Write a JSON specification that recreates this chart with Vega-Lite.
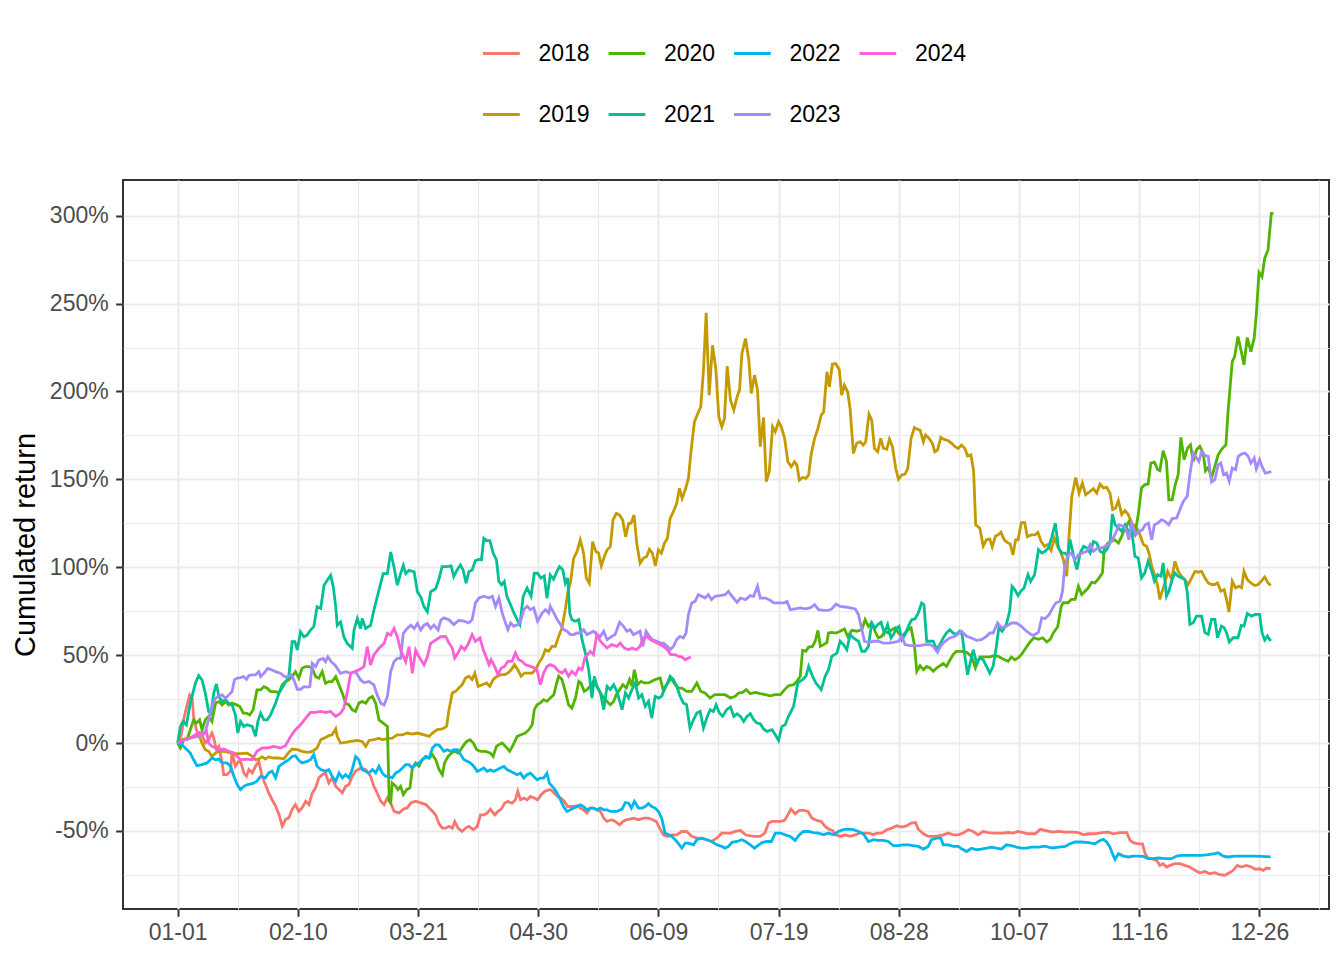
{
"$schema":"https://vega.github.io/schema/vega-lite/v6.json",
"width":1206,"height":729,
"autosize":{"type":"none"},
"padding":{"left":123,"top":180,"right":15,"bottom":51},
"background":"white",
"config":{
"font":"Liberation Sans",
"view":{"stroke":"#333333","strokeWidth":2},
"axis":{"domain":false,"labelFont":"Liberation Sans","labelFontSize":23,"labelColor":"#4D4D4D","tickColor":"#333333","tickWidth":2,"tickSize":7.3,"gridColor":"#EBEBEB","labelOverlap":false,"labelFlush":false,"titleFont":"Liberation Sans","titleFontWeight":"normal","titleColor":"#000000","titleFontSize":29},
"legend":{"labelFont":"Liberation Sans"}
},
"data":{"values":[
{"year":"2018","day":0,"ret":0},{"year":"2018","day":1.1,"ret":3.8},{"year":"2018","day":2.2,"ret":15.1},{"year":"2018","day":3.3,"ret":22.7},{"year":"2018","day":4,"ret":27.4},{"year":"2018","day":4.8,"ret":25.5},{"year":"2018","day":5.3,"ret":15.1},{"year":"2018","day":6.2,"ret":7.6},{"year":"2018","day":7,"ret":3.8},{"year":"2018","day":8.1,"ret":4.7},{"year":"2018","day":9.2,"ret":0},{"year":"2018","day":10.3,"ret":1.9},{"year":"2018","day":11.4,"ret":5.7},{"year":"2018","day":12,"ret":2.8},{"year":"2018","day":12.9,"ret":-3.8},{"year":"2018","day":13.7,"ret":-1.9},{"year":"2018","day":14.8,"ret":-11.3},{"year":"2018","day":15.3,"ret":-18},{"year":"2018","day":16.4,"ret":-18},{"year":"2018","day":17.6,"ret":-16},{"year":"2018","day":18.1,"ret":-4.7},{"year":"2018","day":19.2,"ret":-13.2},{"year":"2018","day":20.3,"ret":-10.4},{"year":"2018","day":21.1,"ret":-11.3},{"year":"2018","day":22,"ret":-17},{"year":"2018","day":22.9,"ret":-18.9},{"year":"2018","day":23.7,"ret":-15.1},{"year":"2018","day":24.8,"ret":-17},{"year":"2018","day":25.9,"ret":-13.2},{"year":"2018","day":27,"ret":-10.4},{"year":"2018","day":28.1,"ret":-18.9},{"year":"2018","day":29.2,"ret":-23.6},{"year":"2018","day":30.3,"ret":-28.4},{"year":"2018","day":31.4,"ret":-32.1},{"year":"2018","day":32.6,"ret":-35.9},{"year":"2018","day":33.7,"ret":-40.6},{"year":"2018","day":34.8,"ret":-47.3},{"year":"2018","day":35.9,"ret":-43.5},{"year":"2018","day":37,"ret":-42.5},{"year":"2018","day":38.1,"ret":-37.8},{"year":"2018","day":39.2,"ret":-35},{"year":"2018","day":40.3,"ret":-38.8},{"year":"2018","day":41.4,"ret":-36.9},{"year":"2018","day":42.6,"ret":-33.1},{"year":"2018","day":43.7,"ret":-35},{"year":"2018","day":44.8,"ret":-28.4},{"year":"2018","day":45.9,"ret":-25.5},{"year":"2018","day":47,"ret":-19.8},{"year":"2018","day":48.1,"ret":-18},{"year":"2018","day":49.2,"ret":-17},{"year":"2018","day":50.3,"ret":-22.7},{"year":"2018","day":51.4,"ret":-19.8},{"year":"2018","day":52.6,"ret":-24.6},{"year":"2018","day":53.7,"ret":-26.5},{"year":"2018","day":54.8,"ret":-28.4},{"year":"2018","day":55.9,"ret":-24.6},{"year":"2018","day":57,"ret":-23.6},{"year":"2018","day":58.1,"ret":-18.9},{"year":"2018","day":59.2,"ret":-16},{"year":"2018","day":60.9,"ret":-14.2},{"year":"2018","day":62.6,"ret":-15.1},{"year":"2018","day":64.2,"ret":-18.9},{"year":"2018","day":65.3,"ret":-24.6},{"year":"2018","day":66.4,"ret":-28.4},{"year":"2018","day":67.6,"ret":-33.1},{"year":"2018","day":68.7,"ret":-35},{"year":"2018","day":69.8,"ret":-31.2},{"year":"2018","day":70.9,"ret":-34},{"year":"2018","day":72,"ret":-38.8},{"year":"2018","day":73.7,"ret":-39.7},{"year":"2018","day":75.3,"ret":-37.4},{"year":"2018","day":76.4,"ret":-36.9},{"year":"2018","day":77.6,"ret":-34},{"year":"2018","day":79.2,"ret":-33.1},{"year":"2018","day":80.9,"ret":-34},{"year":"2018","day":82.6,"ret":-35},{"year":"2018","day":83.7,"ret":-36.9},{"year":"2018","day":84.8,"ret":-38.8},{"year":"2018","day":85.9,"ret":-41},{"year":"2018","day":87,"ret":-46},{"year":"2018","day":88.1,"ret":-48.4},{"year":"2018","day":89.2,"ret":-48.4},{"year":"2018","day":90.3,"ret":-47.4},{"year":"2018","day":91.4,"ret":-48.4},{"year":"2018","day":92.2,"ret":-44.6},{"year":"2018","day":93.3,"ret":-48.4},{"year":"2018","day":94.7,"ret":-50.3},{"year":"2018","day":95.8,"ret":-48.4},{"year":"2018","day":96.9,"ret":-47.4},{"year":"2018","day":98.4,"ret":-49.3},{"year":"2018","day":99.7,"ret":-47.4},{"year":"2018","day":100.8,"ret":-40.8},{"year":"2018","day":101.9,"ret":-40.8},{"year":"2018","day":103,"ret":-39.8},{"year":"2018","day":104.1,"ret":-37.6},{"year":"2018","day":105.5,"ret":-40.8},{"year":"2018","day":106.6,"ret":-38.9},{"year":"2018","day":107.7,"ret":-37.6},{"year":"2018","day":108.8,"ret":-34.2},{"year":"2018","day":109.9,"ret":-33.2},{"year":"2018","day":111.3,"ret":-34.2},{"year":"2018","day":112.4,"ret":-32.3},{"year":"2018","day":113.2,"ret":-27.5},{"year":"2018","day":114.1,"ret":-32.3},{"year":"2018","day":115.2,"ret":-31.3},{"year":"2018","day":116.3,"ret":-32.3},{"year":"2018","day":117.4,"ret":-30.4},{"year":"2018","day":118.7,"ret":-31.3},{"year":"2018","day":119.8,"ret":-32.3},{"year":"2018","day":121,"ret":-29.4},{"year":"2018","day":122.1,"ret":-27.5},{"year":"2018","day":123.5,"ret":-26.6},{"year":"2018","day":124.3,"ret":-26.6},{"year":"2018","day":125.4,"ret":-28.5},{"year":"2018","day":126.5,"ret":-30.4},{"year":"2018","day":127.6,"ret":-31.3},{"year":"2018","day":128.7,"ret":-33.2},{"year":"2018","day":129.8,"ret":-36.1},{"year":"2018","day":130.7,"ret":-36.1},{"year":"2018","day":131.8,"ret":-36.1},{"year":"2018","day":132.9,"ret":-35.7},{"year":"2018","day":134,"ret":-37},{"year":"2018","day":135.1,"ret":-38},{"year":"2018","day":136.2,"ret":-39.8},{"year":"2018","day":137.3,"ret":-37},{"year":"2018","day":138.4,"ret":-37},{"year":"2018","day":139.5,"ret":-38},{"year":"2018","day":140.7,"ret":-38.9},{"year":"2018","day":141.8,"ret":-42.7},{"year":"2018","day":142.9,"ret":-44.6},{"year":"2018","day":144.5,"ret":-43.6},{"year":"2018","day":145.6,"ret":-44.6},{"year":"2018","day":147.1,"ret":-46.5},{"year":"2018","day":148.2,"ret":-44.6},{"year":"2018","day":149.5,"ret":-43.6},{"year":"2018","day":150.6,"ret":-43.3},{"year":"2018","day":151.7,"ret":-42.7},{"year":"2018","day":153.4,"ret":-43.6},{"year":"2018","day":155.1,"ret":-42.7},{"year":"2018","day":156.7,"ret":-42.7},{"year":"2018","day":158.1,"ret":-43.6},{"year":"2018","day":159.3,"ret":-44.6},{"year":"2018","day":160.4,"ret":-48.4},{"year":"2018","day":161.7,"ret":-52.2},{"year":"2018","day":163,"ret":-53.1},{"year":"2018","day":164.5,"ret":-52.2},{"year":"2018","day":166.1,"ret":-52.2},{"year":"2018","day":167.8,"ret":-50.3},{"year":"2018","day":169.4,"ret":-50.3},{"year":"2018","day":171.1,"ret":-53.1},{"year":"2018","day":172.8,"ret":-54.1},{"year":"2018","day":174.4,"ret":-54.1},{"year":"2018","day":176.1,"ret":-55},{"year":"2018","day":177.7,"ret":-56},{"year":"2018","day":179.4,"ret":-54.1},{"year":"2018","day":181.1,"ret":-51.2},{"year":"2018","day":182.7,"ret":-51.2},{"year":"2018","day":184,"ret":-51.2},{"year":"2018","day":185.6,"ret":-50.3},{"year":"2018","day":187.3,"ret":-49.7},{"year":"2018","day":189,"ret":-52.2},{"year":"2018","day":190.6,"ret":-52.8},{"year":"2018","day":192.3,"ret":-53.1},{"year":"2018","day":193.9,"ret":-53.1},{"year":"2018","day":195.4,"ret":-51.2},{"year":"2018","day":196.7,"ret":-45.5},{"year":"2018","day":197.8,"ret":-44.6},{"year":"2018","day":199.5,"ret":-44.6},{"year":"2018","day":200.6,"ret":-44.6},{"year":"2018","day":202,"ret":-44},{"year":"2018","day":203.1,"ret":-40.8},{"year":"2018","day":204.1,"ret":-37.6},{"year":"2018","day":205.5,"ret":-40.2},{"year":"2018","day":206.9,"ret":-38.3},{"year":"2018","day":208.3,"ret":-38.3},{"year":"2018","day":209.8,"ret":-38.9},{"year":"2018","day":211.1,"ret":-42.7},{"year":"2018","day":212.7,"ret":-44},{"year":"2018","day":214.2,"ret":-44.6},{"year":"2018","day":215.5,"ret":-47.4},{"year":"2018","day":216.8,"ret":-49},{"year":"2018","day":217.9,"ret":-49.7},{"year":"2018","day":219.1,"ret":-52.2},{"year":"2018","day":220.5,"ret":-53.1},{"year":"2018","day":222.2,"ret":-52.2},{"year":"2018","day":223.8,"ret":-53.1},{"year":"2018","day":225.5,"ret":-52.2},{"year":"2018","day":227.1,"ret":-51.2},{"year":"2018","day":228.8,"ret":-51.2},{"year":"2018","day":230.1,"ret":-51.2},{"year":"2018","day":231.6,"ret":-52.2},{"year":"2018","day":232.7,"ret":-51.2},{"year":"2018","day":234.3,"ret":-51.2},{"year":"2018","day":236,"ret":-49.3},{"year":"2018","day":237.7,"ret":-48.4},{"year":"2018","day":239.3,"ret":-47.1},{"year":"2018","day":241,"ret":-47.8},{"year":"2018","day":242.6,"ret":-47.1},{"year":"2018","day":244.1,"ret":-45.5},{"year":"2018","day":245.6,"ret":-45.2},{"year":"2018","day":246.5,"ret":-49},{"year":"2018","day":248.2,"ret":-51.6},{"year":"2018","day":249.8,"ret":-53.1},{"year":"2018","day":251.5,"ret":-53.1},{"year":"2018","day":253.1,"ret":-52.8},{"year":"2018","day":254.8,"ret":-52.2},{"year":"2018","day":256.5,"ret":-51.2},{"year":"2018","day":258.1,"ret":-52.2},{"year":"2018","day":259.8,"ret":-52.2},{"year":"2018","day":261.4,"ret":-51.2},{"year":"2018","day":263.1,"ret":-49.3},{"year":"2018","day":264.8,"ret":-50.3},{"year":"2018","day":266.4,"ret":-52.2},{"year":"2018","day":268.1,"ret":-50.3},{"year":"2018","day":269.8,"ret":-50.9},{"year":"2018","day":271.4,"ret":-51.2},{"year":"2018","day":273.1,"ret":-51.2},{"year":"2018","day":274.7,"ret":-51.2},{"year":"2018","day":276.4,"ret":-50.9},{"year":"2018","day":278.1,"ret":-51.2},{"year":"2018","day":279.7,"ret":-50.3},{"year":"2018","day":281.4,"ret":-50.9},{"year":"2018","day":282.5,"ret":-51.5},{"year":"2018","day":283.9,"ret":-51.6},{"year":"2018","day":285.4,"ret":-51.6},{"year":"2018","day":287.1,"ret":-49.1},{"year":"2018","day":288.7,"ret":-49.7},{"year":"2018","day":291,"ret":-50.7},{"year":"2018","day":293.2,"ret":-50.3},{"year":"2018","day":295.4,"ret":-50.7},{"year":"2018","day":297.6,"ret":-50.7},{"year":"2018","day":299.8,"ret":-51},{"year":"2018","day":301.5,"ret":-52.2},{"year":"2018","day":303.1,"ret":-51.6},{"year":"2018","day":305.3,"ret":-51.6},{"year":"2018","day":307.6,"ret":-51},{"year":"2018","day":309.8,"ret":-50.7},{"year":"2018","day":311.4,"ret":-51.6},{"year":"2018","day":313.7,"ret":-51},{"year":"2018","day":315.9,"ret":-51},{"year":"2018","day":317,"ret":-55.4},{"year":"2018","day":318.1,"ret":-56.7},{"year":"2018","day":319.7,"ret":-57.3},{"year":"2018","day":321.1,"ret":-57.3},{"year":"2018","day":322,"ret":-62.9},{"year":"2018","day":323.1,"ret":-65.8},{"year":"2018","day":324.2,"ret":-65.8},{"year":"2018","day":325.8,"ret":-66.7},{"year":"2018","day":326.9,"ret":-69.6},{"year":"2018","day":328,"ret":-68.6},{"year":"2018","day":329.1,"ret":-70.5},{"year":"2018","day":330.3,"ret":-69.6},{"year":"2018","day":331.9,"ret":-68.6},{"year":"2018","day":333.6,"ret":-68.6},{"year":"2018","day":335.2,"ret":-69.6},{"year":"2018","day":336.9,"ret":-70.5},{"year":"2018","day":338.6,"ret":-72.4},{"year":"2018","day":340.2,"ret":-73.9},{"year":"2018","day":341.9,"ret":-73},{"year":"2018","day":343.5,"ret":-74.3},{"year":"2018","day":345.2,"ret":-73.7},{"year":"2018","day":346.9,"ret":-74.9},{"year":"2018","day":348.5,"ret":-75.2},{"year":"2018","day":350.2,"ret":-73.7},{"year":"2018","day":351.3,"ret":-72.4},{"year":"2018","day":352.7,"ret":-69.6},{"year":"2018","day":354,"ret":-70.5},{"year":"2018","day":355.7,"ret":-69.6},{"year":"2018","day":357.4,"ret":-70.5},{"year":"2018","day":358.7,"ret":-71.8},{"year":"2018","day":360.1,"ret":-71.5},{"year":"2018","day":361.3,"ret":-72.4},{"year":"2018","day":362.4,"ret":-71.1},{"year":"2018","day":363.8,"ret":-71.5},
{"year":"2019","day":0,"ret":0},{"year":"2019","day":2,"ret":2.3},{"year":"2019","day":3.7,"ret":2.8},{"year":"2019","day":5.3,"ret":3.8},{"year":"2019","day":7,"ret":4.7},{"year":"2019","day":8.1,"ret":0},{"year":"2019","day":9.2,"ret":-3.8},{"year":"2019","day":10.3,"ret":-4.7},{"year":"2019","day":11.4,"ret":-7.6},{"year":"2019","day":12.6,"ret":-5.7},{"year":"2019","day":13.7,"ret":-4.7},{"year":"2019","day":15.3,"ret":-4.7},{"year":"2019","day":17,"ret":-5.3},{"year":"2019","day":18.7,"ret":-6},{"year":"2019","day":20.9,"ret":-6},{"year":"2019","day":23.1,"ret":-5.7},{"year":"2019","day":24.8,"ret":-7.6},{"year":"2019","day":25.9,"ret":-9.5},{"year":"2019","day":27,"ret":-9.1},{"year":"2019","day":28.1,"ret":-7.9},{"year":"2019","day":29.2,"ret":-9.1},{"year":"2019","day":30.3,"ret":-7.9},{"year":"2019","day":32,"ret":-8.5},{"year":"2019","day":33.7,"ret":-8.5},{"year":"2019","day":35.3,"ret":-9.1},{"year":"2019","day":37,"ret":-5.3},{"year":"2019","day":38.1,"ret":-3.4},{"year":"2019","day":39.8,"ret":-3.8},{"year":"2019","day":41.4,"ret":-4.7},{"year":"2019","day":43.1,"ret":-5.3},{"year":"2019","day":44.8,"ret":-4.7},{"year":"2019","day":46.4,"ret":-2.8},{"year":"2019","day":47.6,"ret":1.9},{"year":"2019","day":48.7,"ret":2.8},{"year":"2019","day":50.3,"ret":4.2},{"year":"2019","day":51.4,"ret":4.7},{"year":"2019","day":52.6,"ret":8.1},{"year":"2019","day":53.1,"ret":3.8},{"year":"2019","day":54.2,"ret":0},{"year":"2019","day":55.9,"ret":0.4},{"year":"2019","day":57.6,"ret":0.9},{"year":"2019","day":59.8,"ret":1.5},{"year":"2019","day":61.4,"ret":0.9},{"year":"2019","day":62.6,"ret":-1.9},{"year":"2019","day":63.7,"ret":1.5},{"year":"2019","day":65.3,"ret":1.9},{"year":"2019","day":67,"ret":2.8},{"year":"2019","day":68.1,"ret":1.9},{"year":"2019","day":69.8,"ret":2.5},{"year":"2019","day":71.4,"ret":2.8},{"year":"2019","day":73.1,"ret":4.7},{"year":"2019","day":74.8,"ret":4.7},{"year":"2019","day":76.4,"ret":5.7},{"year":"2019","day":78.1,"ret":5.1},{"year":"2019","day":79.8,"ret":5.7},{"year":"2019","day":82,"ret":4.7},{"year":"2019","day":83.7,"ret":3.8},{"year":"2019","day":84.8,"ret":5.7},{"year":"2019","day":86.4,"ret":7.6},{"year":"2019","day":88.1,"ret":8},{"year":"2019","day":89.5,"ret":9.5},{"year":"2019","day":90.3,"ret":19},{"year":"2019","day":91.4,"ret":28.5},{"year":"2019","day":92.5,"ret":29.4},{"year":"2019","day":93.6,"ret":31.3},{"year":"2019","day":94.7,"ret":33.2},{"year":"2019","day":95.8,"ret":37},{"year":"2019","day":96.9,"ret":38},{"year":"2019","day":98,"ret":36.1},{"year":"2019","day":98.9,"ret":39.8},{"year":"2019","day":100,"ret":32.3},{"year":"2019","day":101.4,"ret":33.2},{"year":"2019","day":102.8,"ret":34.2},{"year":"2019","day":103.9,"ret":32.3},{"year":"2019","day":105,"ret":36.1},{"year":"2019","day":106.3,"ret":38},{"year":"2019","day":107.7,"ret":38.9},{"year":"2019","day":108.8,"ret":38.9},{"year":"2019","day":109.9,"ret":39.8},{"year":"2019","day":111,"ret":41.7},{"year":"2019","day":112.1,"ret":44.6},{"year":"2019","day":113.2,"ret":41.7},{"year":"2019","day":114.3,"ret":38},{"year":"2019","day":115.4,"ret":39.8},{"year":"2019","day":116.5,"ret":39.8},{"year":"2019","day":118,"ret":39.8},{"year":"2019","day":119.1,"ret":41.7},{"year":"2019","day":120.2,"ret":45.5},{"year":"2019","day":121.3,"ret":48.4},{"year":"2019","day":122.4,"ret":53.1},{"year":"2019","day":123.5,"ret":52.2},{"year":"2019","day":124.6,"ret":55},{"year":"2019","day":125.7,"ret":55},{"year":"2019","day":126.8,"ret":60.7},{"year":"2019","day":127.9,"ret":65.5},{"year":"2019","day":129,"ret":75.9},{"year":"2019","day":129.8,"ret":85.4},{"year":"2019","day":130.7,"ret":91.1},{"year":"2019","day":131.8,"ret":105.1},{"year":"2019","day":132.9,"ret":108.9},{"year":"2019","day":134,"ret":115.5},{"year":"2019","day":135.1,"ret":108},{"year":"2019","day":136,"ret":93.8},{"year":"2019","day":137,"ret":90.9},{"year":"2019","day":138.1,"ret":114.6},{"year":"2019","day":139.2,"ret":108.9},{"year":"2019","day":140.1,"ret":108},{"year":"2019","day":141,"ret":100.8},{"year":"2019","day":142,"ret":106.1},{"year":"2019","day":142.9,"ret":109.8},{"year":"2019","day":144,"ret":111.7},{"year":"2019","day":144.9,"ret":126.9},{"year":"2019","day":146,"ret":130.7},{"year":"2019","day":147.1,"ret":129.7},{"year":"2019","day":148.1,"ret":126.9},{"year":"2019","day":149.1,"ret":117.4},{"year":"2019","day":150.1,"ret":125},{"year":"2019","day":150.9,"ret":125},{"year":"2019","day":151.9,"ret":129.7},{"year":"2019","day":152.8,"ret":113.6},{"year":"2019","day":153.9,"ret":102.3},{"year":"2019","day":155,"ret":105.1},{"year":"2019","day":156.1,"ret":106.1},{"year":"2019","day":157,"ret":110.2},{"year":"2019","day":158,"ret":108},{"year":"2019","day":159,"ret":100.8},{"year":"2019","day":160,"ret":109.8},{"year":"2019","day":161,"ret":108},{"year":"2019","day":162,"ret":113.6},{"year":"2019","day":163,"ret":116.5},{"year":"2019","day":163.9,"ret":127.8},{"year":"2019","day":165,"ret":131.6},{"year":"2019","day":166.1,"ret":136.4},{"year":"2019","day":167,"ret":144.9},{"year":"2019","day":167.9,"ret":139.2},{"year":"2019","day":168.9,"ret":143.9},{"year":"2019","day":170,"ret":150.6},{"year":"2019","day":170.9,"ret":166.7},{"year":"2019","day":172,"ret":182.8},{"year":"2019","day":173.1,"ret":187.5},{"year":"2019","day":174.1,"ret":191.3},{"year":"2019","day":175,"ret":212.1},{"year":"2019","day":175.9,"ret":244.7},{"year":"2019","day":176.9,"ret":197.9},{"year":"2019","day":178,"ret":226.3},{"year":"2019","day":179.1,"ret":213.1},{"year":"2019","day":180.1,"ret":185.6},{"year":"2019","day":181.1,"ret":179.9},{"year":"2019","day":182,"ret":184.7},{"year":"2019","day":182.9,"ret":214.4},{"year":"2019","day":184,"ret":195},{"year":"2019","day":185.1,"ret":189.4},{"year":"2019","day":186.2,"ret":197},{"year":"2019","day":187,"ret":200.8},{"year":"2019","day":187.8,"ret":221.6},{"year":"2019","day":189,"ret":230.1},{"year":"2019","day":190.1,"ret":217.8},{"year":"2019","day":190.9,"ret":198.9},{"year":"2019","day":192,"ret":209.3},{"year":"2019","day":193,"ret":200.8},{"year":"2019","day":193.9,"ret":168.6},{"year":"2019","day":195,"ret":185.2},{"year":"2019","day":195.9,"ret":148.7},{"year":"2019","day":196.9,"ret":154.4},{"year":"2019","day":198,"ret":179.9},{"year":"2019","day":198.9,"ret":177.1},{"year":"2019","day":200,"ret":182.8},{"year":"2019","day":200.9,"ret":179.9},{"year":"2019","day":202,"ret":173.3},{"year":"2019","day":203.1,"ret":160},{"year":"2019","day":204.2,"ret":157.2},{"year":"2019","day":205.3,"ret":160},{"year":"2019","day":206.1,"ret":158.1},{"year":"2019","day":206.9,"ret":149.6},{"year":"2019","day":208,"ret":151.1},{"year":"2019","day":209.1,"ret":150.6},{"year":"2019","day":210,"ret":152.5},{"year":"2019","day":210.9,"ret":164.8},{"year":"2019","day":212,"ret":173.3},{"year":"2019","day":213.1,"ret":179},{"year":"2019","day":214.2,"ret":186.6},{"year":"2019","day":215,"ret":188.4},{"year":"2019","day":216.1,"ret":211.2},{"year":"2019","day":216.9,"ret":202.7},{"year":"2019","day":217.9,"ret":215.5},{"year":"2019","day":219,"ret":215.9},{"year":"2019","day":220.2,"ret":212.5},{"year":"2019","day":221,"ret":197.9},{"year":"2019","day":221.9,"ret":203.6},{"year":"2019","day":223,"ret":199.8},{"year":"2019","day":223.8,"ret":190.3},{"year":"2019","day":224.9,"ret":164.8},{"year":"2019","day":226,"ret":170.5},{"year":"2019","day":227.1,"ret":171.4},{"year":"2019","day":228.2,"ret":169.5},{"year":"2019","day":229,"ret":171.4},{"year":"2019","day":230.1,"ret":187.1},{"year":"2019","day":231,"ret":183.7},{"year":"2019","day":231.9,"ret":167.6},{"year":"2019","day":233,"ret":165.7},{"year":"2019","day":234,"ret":173.3},{"year":"2019","day":234.9,"ret":167.7},{"year":"2019","day":236,"ret":167.1},{"year":"2019","day":236.9,"ret":172.9},{"year":"2019","day":237.9,"ret":168.6},{"year":"2019","day":239,"ret":156.2},{"year":"2019","day":239.9,"ret":150},{"year":"2019","day":241,"ret":152.5},{"year":"2019","day":242.1,"ret":153},{"year":"2019","day":243,"ret":156.2},{"year":"2019","day":244.1,"ret":173.3},{"year":"2019","day":245.2,"ret":179.5},{"year":"2019","day":246.3,"ret":178.4},{"year":"2019","day":247.1,"ret":178},{"year":"2019","day":248.2,"ret":171.4},{"year":"2019","day":248.9,"ret":175.2},{"year":"2019","day":250.1,"ret":173.3},{"year":"2019","day":251.2,"ret":170.5},{"year":"2019","day":252,"ret":165.7},{"year":"2019","day":252.9,"ret":166.7},{"year":"2019","day":254,"ret":173.9},{"year":"2019","day":255.1,"ret":172.7},{"year":"2019","day":256.5,"ret":172},{"year":"2019","day":257.6,"ret":170.5},{"year":"2019","day":258.7,"ret":168.6},{"year":"2019","day":259.8,"ret":167.6},{"year":"2019","day":260.9,"ret":169.5},{"year":"2019","day":262,"ret":167.6},{"year":"2019","day":262.9,"ret":163.3},{"year":"2019","day":264,"ret":163.9},{"year":"2019","day":264.9,"ret":155.3},{"year":"2019","day":265.6,"ret":124.1},{"year":"2019","day":267,"ret":122.2},{"year":"2019","day":268.1,"ret":112.1},{"year":"2019","day":269.2,"ret":115.6},{"year":"2019","day":270.3,"ret":116},{"year":"2019","day":271.1,"ret":111.7},{"year":"2019","day":272.2,"ret":117.8},{"year":"2019","day":273.1,"ret":118.4},{"year":"2019","day":274,"ret":119.9},{"year":"2019","day":275.1,"ret":115.6},{"year":"2019","day":276.2,"ret":114},{"year":"2019","day":277.1,"ret":113.3},{"year":"2019","day":278,"ret":107},{"year":"2019","day":278.9,"ret":115.6},{"year":"2019","day":279.7,"ret":115.6},{"year":"2019","day":280.8,"ret":125.4},{"year":"2019","day":281.9,"ret":125.4},{"year":"2019","day":282.8,"ret":117.4},{"year":"2019","day":284.1,"ret":118.4},{"year":"2019","day":285.4,"ret":118.5},{"year":"2019","day":286.3,"ret":119.8},{"year":"2019","day":287.4,"ret":114.7},{"year":"2019","day":288.5,"ret":111.9},{"year":"2019","day":289.6,"ret":112.9},{"year":"2019","day":290.7,"ret":109.6},{"year":"2019","day":291.8,"ret":116.6},{"year":"2019","day":292.9,"ret":111.9},{"year":"2019","day":294,"ret":108.1},{"year":"2019","day":294.8,"ret":104.3},{"year":"2019","day":295.9,"ret":94.9},{"year":"2019","day":296.7,"ret":118.6},{"year":"2019","day":297.6,"ret":140.3},{"year":"2019","day":298.9,"ret":151.1},{"year":"2019","day":300,"ret":142.2},{"year":"2019","day":301.1,"ret":147.9},{"year":"2019","day":302.2,"ret":141.3},{"year":"2019","day":303.7,"ret":143.2},{"year":"2019","day":304.8,"ret":144.7},{"year":"2019","day":305.9,"ret":142.2},{"year":"2019","day":307,"ret":147.3},{"year":"2019","day":308.1,"ret":145.1},{"year":"2019","day":309.2,"ret":145.5},{"year":"2019","day":310.3,"ret":142.2},{"year":"2019","day":311.2,"ret":132.8},{"year":"2019","day":312.2,"ret":133.7},{"year":"2019","day":313.1,"ret":137.9},{"year":"2019","day":314.2,"ret":130},{"year":"2019","day":315.3,"ret":132.2},{"year":"2019","day":316.4,"ret":130},{"year":"2019","day":317.5,"ret":125.2},{"year":"2019","day":319.2,"ret":122.3},{"year":"2019","day":320.3,"ret":118.5},{"year":"2019","day":321.4,"ret":112.9},{"year":"2019","day":322.5,"ret":111.9},{"year":"2019","day":323.3,"ret":108.1},{"year":"2019","day":324.2,"ret":100.6},{"year":"2019","day":325.3,"ret":94.9},{"year":"2019","day":326.2,"ret":89.2},{"year":"2019","day":326.9,"ret":81.7},{"year":"2019","day":327.7,"ret":86.4},{"year":"2019","day":328.6,"ret":91.1},{"year":"2019","day":329.5,"ret":97.7},{"year":"2019","day":330.6,"ret":94},{"year":"2019","day":331.1,"ret":95.8},{"year":"2019","day":331.9,"ret":103.4},{"year":"2019","day":333,"ret":97.7},{"year":"2019","day":334.1,"ret":94.9},{"year":"2019","day":335.2,"ret":93},{"year":"2019","day":336.3,"ret":90.2},{"year":"2019","day":337.5,"ret":94},{"year":"2019","day":338.6,"ret":97.7},{"year":"2019","day":339.7,"ret":97.2},{"year":"2019","day":340.8,"ret":97.7},{"year":"2019","day":341.9,"ret":94},{"year":"2019","day":343,"ret":91.1},{"year":"2019","day":344.1,"ret":90.2},{"year":"2019","day":345.2,"ret":90.2},{"year":"2019","day":346.1,"ret":91.1},{"year":"2019","day":347.2,"ret":86.4},{"year":"2019","day":348.3,"ret":87.3},{"year":"2019","day":349.1,"ret":81.7},{"year":"2019","day":349.9,"ret":74.5},{"year":"2019","day":351,"ret":92.1},{"year":"2019","day":352.1,"ret":88.3},{"year":"2019","day":353.2,"ret":89.2},{"year":"2019","day":354.1,"ret":88.3},{"year":"2019","day":354.9,"ret":97.7},{"year":"2019","day":356,"ret":93},{"year":"2019","day":357.2,"ret":91.1},{"year":"2019","day":358.5,"ret":89.6},{"year":"2019","day":359.6,"ret":90.2},{"year":"2019","day":360.7,"ret":92.1},{"year":"2019","day":361.8,"ret":94.5},{"year":"2019","day":362.9,"ret":91.1},{"year":"2019","day":363.8,"ret":89.6},
{"year":"2020","day":0,"ret":0},{"year":"2020","day":0.9,"ret":-2.8},{"year":"2020","day":2,"ret":1.9},{"year":"2020","day":3.1,"ret":1.9},{"year":"2020","day":4.2,"ret":7.6},{"year":"2020","day":5.3,"ret":13.2},{"year":"2020","day":6.2,"ret":11.3},{"year":"2020","day":7.3,"ret":13.2},{"year":"2020","day":8.1,"ret":7.6},{"year":"2020","day":9.2,"ret":13.2},{"year":"2020","day":10.3,"ret":15.1},{"year":"2020","day":11.4,"ret":12.3},{"year":"2020","day":12.6,"ret":22.7},{"year":"2020","day":13.7,"ret":23.6},{"year":"2020","day":14.8,"ret":21.7},{"year":"2020","day":15.9,"ret":23.6},{"year":"2020","day":17,"ret":21.7},{"year":"2020","day":18.1,"ret":22.7},{"year":"2020","day":19.6,"ret":21.7},{"year":"2020","day":20.7,"ret":20.8},{"year":"2020","day":21.8,"ret":17},{"year":"2020","day":22.9,"ret":17},{"year":"2020","day":24,"ret":16},{"year":"2020","day":25.1,"ret":18.9},{"year":"2020","day":26.4,"ret":30.2},{"year":"2020","day":27.6,"ret":30.2},{"year":"2020","day":28.7,"ret":32.1},{"year":"2020","day":29.8,"ret":31.2},{"year":"2020","day":30.9,"ret":29.3},{"year":"2020","day":32.6,"ret":29.3},{"year":"2020","day":33.7,"ret":28.4},{"year":"2020","day":34.8,"ret":33.1},{"year":"2020","day":35.9,"ret":35},{"year":"2020","day":37,"ret":35.9},{"year":"2020","day":38.1,"ret":37.8},{"year":"2020","day":39.2,"ret":40.6},{"year":"2020","day":40.3,"ret":36.9},{"year":"2020","day":41.4,"ret":42.5},{"year":"2020","day":42.6,"ret":43.5},{"year":"2020","day":43.7,"ret":43.5},{"year":"2020","day":44.8,"ret":42.5},{"year":"2020","day":45.9,"ret":37.8},{"year":"2020","day":47,"ret":36.9},{"year":"2020","day":48.1,"ret":40.6},{"year":"2020","day":49.2,"ret":34},{"year":"2020","day":50.3,"ret":35},{"year":"2020","day":51.4,"ret":35},{"year":"2020","day":52.6,"ret":37.8},{"year":"2020","day":53.7,"ret":33.1},{"year":"2020","day":54.8,"ret":28.4},{"year":"2020","day":55.9,"ret":22.7},{"year":"2020","day":57,"ret":21.7},{"year":"2020","day":58.1,"ret":18.9},{"year":"2020","day":59.2,"ret":18},{"year":"2020","day":60.3,"ret":22.7},{"year":"2020","day":61.4,"ret":23.6},{"year":"2020","day":62.6,"ret":22.7},{"year":"2020","day":63.7,"ret":25.5},{"year":"2020","day":64.8,"ret":26.5},{"year":"2020","day":65.9,"ret":22.7},{"year":"2020","day":67,"ret":13.2},{"year":"2020","day":68.4,"ret":11.3},{"year":"2020","day":69.8,"ret":9.5},{"year":"2020","day":70.4,"ret":-33},{"year":"2020","day":70.9,"ret":-34},{"year":"2020","day":71.4,"ret":-22.7},{"year":"2020","day":72.6,"ret":-24.6},{"year":"2020","day":73.3,"ret":-26.5},{"year":"2020","day":74.2,"ret":-24.6},{"year":"2020","day":75.1,"ret":-29.3},{"year":"2020","day":76.2,"ret":-26.5},{"year":"2020","day":77.3,"ret":-25.5},{"year":"2020","day":78.1,"ret":-14.2},{"year":"2020","day":79.2,"ret":-11.3},{"year":"2020","day":80.3,"ret":-13.2},{"year":"2020","day":81.4,"ret":-9.5},{"year":"2020","day":82.6,"ret":-7.6},{"year":"2020","day":83.7,"ret":-8.5},{"year":"2020","day":84.8,"ret":-6.6},{"year":"2020","day":85.9,"ret":-9.5},{"year":"2020","day":87,"ret":-15.1},{"year":"2020","day":88.1,"ret":-18},{"year":"2020","day":88.8,"ret":-11.4},{"year":"2020","day":90,"ret":-7.6},{"year":"2020","day":91.1,"ret":-5.7},{"year":"2020","day":92.2,"ret":-4.7},{"year":"2020","day":93.3,"ret":-5.7},{"year":"2020","day":94.2,"ret":-3.8},{"year":"2020","day":95.3,"ret":-0.9},{"year":"2020","day":96.2,"ret":0.9},{"year":"2020","day":97.3,"ret":1.9},{"year":"2020","day":98.4,"ret":0},{"year":"2020","day":99.5,"ret":-3.8},{"year":"2020","day":100.8,"ret":-4.7},{"year":"2020","day":102.5,"ret":-4.7},{"year":"2020","day":104.1,"ret":-5.7},{"year":"2020","day":105,"ret":-7.6},{"year":"2020","day":106.1,"ret":-1.9},{"year":"2020","day":106.9,"ret":-0.9},{"year":"2020","day":108,"ret":0},{"year":"2020","day":109.1,"ret":-1.9},{"year":"2020","day":110.5,"ret":-4.7},{"year":"2020","day":111.7,"ret":-0.9},{"year":"2020","day":113,"ret":3.8},{"year":"2020","day":114.3,"ret":4.7},{"year":"2020","day":115.7,"ret":5.7},{"year":"2020","day":116.9,"ret":7.6},{"year":"2020","day":118,"ret":10.4},{"year":"2020","day":118.7,"ret":19},{"year":"2020","day":119.6,"ret":21.8},{"year":"2020","day":120.7,"ret":22.8},{"year":"2020","day":121.8,"ret":24.7},{"year":"2020","day":122.9,"ret":23.7},{"year":"2020","day":124,"ret":25.6},{"year":"2020","day":125.2,"ret":27.5},{"year":"2020","day":126,"ret":33.2},{"year":"2020","day":126.8,"ret":38},{"year":"2020","day":127.9,"ret":36.1},{"year":"2020","day":129,"ret":29.4},{"year":"2020","day":130.1,"ret":21.8},{"year":"2020","day":131.2,"ret":19.9},{"year":"2020","day":132.4,"ret":25.6},{"year":"2020","day":133.5,"ret":35.1},{"year":"2020","day":134.2,"ret":34.2},{"year":"2020","day":135.3,"ret":29.4},{"year":"2020","day":136.2,"ret":30.4},{"year":"2020","day":137.3,"ret":32.3},{"year":"2020","day":138.4,"ret":35.1},{"year":"2020","day":139.5,"ret":32.3},{"year":"2020","day":140.7,"ret":28.5},{"year":"2020","day":141.8,"ret":25.6},{"year":"2020","day":142.9,"ret":23.7},{"year":"2020","day":144,"ret":21.8},{"year":"2020","day":145.1,"ret":23.7},{"year":"2020","day":146,"ret":27.5},{"year":"2020","day":147.1,"ret":30.4},{"year":"2020","day":148.2,"ret":33.2},{"year":"2020","day":149.3,"ret":31.3},{"year":"2020","day":150.4,"ret":36.1},{"year":"2020","day":151.2,"ret":32.3},{"year":"2020","day":152,"ret":41.7},{"year":"2020","day":153.1,"ret":33.2},{"year":"2020","day":154.2,"ret":35.1},{"year":"2020","day":155.3,"ret":34.2},{"year":"2020","day":156.7,"ret":34.2},{"year":"2020","day":157.8,"ret":35.1},{"year":"2020","day":158.9,"ret":36.1},{"year":"2020","day":160.6,"ret":37},{"year":"2020","day":161.7,"ret":29.4},{"year":"2020","day":162.8,"ret":33.2},{"year":"2020","day":164.1,"ret":37},{"year":"2020","day":165.6,"ret":33.2},{"year":"2020","day":166.7,"ret":31.3},{"year":"2020","day":167.8,"ret":31.3},{"year":"2020","day":169.4,"ret":29.4},{"year":"2020","day":171.1,"ret":29.4},{"year":"2020","day":172.8,"ret":34.2},{"year":"2020","day":174.1,"ret":29.4},{"year":"2020","day":175.5,"ret":28.5},{"year":"2020","day":177.2,"ret":25.6},{"year":"2020","day":178.8,"ret":27.5},{"year":"2020","day":180.5,"ret":27.5},{"year":"2020","day":182.2,"ret":27.5},{"year":"2020","day":184,"ret":25.6},{"year":"2020","day":185.6,"ret":26.6},{"year":"2020","day":186.7,"ret":28.5},{"year":"2020","day":188,"ret":28.8},{"year":"2020","day":189.2,"ret":30.4},{"year":"2020","day":190.6,"ret":28.1},{"year":"2020","day":192.3,"ret":28.8},{"year":"2020","day":193.9,"ret":28.1},{"year":"2020","day":195.6,"ret":27.5},{"year":"2020","day":197.2,"ret":26.9},{"year":"2020","day":198.9,"ret":27.5},{"year":"2020","day":200.6,"ret":27.5},{"year":"2020","day":202,"ret":30.4},{"year":"2020","day":203.3,"ret":32.6},{"year":"2020","day":205,"ret":33.2},{"year":"2020","day":206.1,"ret":35.1},{"year":"2020","day":207.2,"ret":38},{"year":"2020","day":208,"ret":52.8},{"year":"2020","day":209.1,"ret":52.2},{"year":"2020","day":210,"ret":54.6},{"year":"2020","day":211.3,"ret":55},{"year":"2020","day":212.2,"ret":57.9},{"year":"2020","day":213.1,"ret":64.1},{"year":"2020","day":213.9,"ret":55},{"year":"2020","day":215,"ret":56},{"year":"2020","day":216.1,"ret":57.3},{"year":"2020","day":216.6,"ret":62.6},{"year":"2020","day":217.7,"ret":63},{"year":"2020","day":219.1,"ret":62.6},{"year":"2020","day":220.5,"ret":63.6},{"year":"2020","day":221.9,"ret":64.9},{"year":"2020","day":223,"ret":60.7},{"year":"2020","day":224.4,"ret":64.1},{"year":"2020","day":226,"ret":63.6},{"year":"2020","day":227.7,"ret":64.5},{"year":"2020","day":228.8,"ret":70.2},{"year":"2020","day":229.9,"ret":66.4},{"year":"2020","day":231,"ret":68.3},{"year":"2020","day":232.1,"ret":63.6},{"year":"2020","day":233.2,"ret":59.8},{"year":"2020","day":234.3,"ret":60.7},{"year":"2020","day":235.4,"ret":63.6},{"year":"2020","day":236.5,"ret":62.6},{"year":"2020","day":237.7,"ret":64.5},{"year":"2020","day":238.8,"ret":65.5},{"year":"2020","day":239.9,"ret":62.6},{"year":"2020","day":241,"ret":60.7},{"year":"2020","day":242.1,"ret":62.6},{"year":"2020","day":243.2,"ret":64.5},{"year":"2020","day":244.1,"ret":65.5},{"year":"2020","day":245.2,"ret":56},{"year":"2020","day":246,"ret":40.8},{"year":"2020","day":247.1,"ret":44},{"year":"2020","day":248.2,"ret":41.7},{"year":"2020","day":249.3,"ret":43.6},{"year":"2020","day":250.4,"ret":42.7},{"year":"2020","day":251.5,"ret":40.8},{"year":"2020","day":252.6,"ret":42.7},{"year":"2020","day":253.7,"ret":44},{"year":"2020","day":254.8,"ret":45.2},{"year":"2020","day":255.9,"ret":43.6},{"year":"2020","day":257,"ret":47.1},{"year":"2020","day":258.1,"ret":50.3},{"year":"2020","day":259.2,"ret":52.2},{"year":"2020","day":260.9,"ret":52.2},{"year":"2020","day":262.6,"ret":51.6},{"year":"2020","day":264.2,"ret":49.3},{"year":"2020","day":265.5,"ret":42.7},{"year":"2020","day":267,"ret":49},{"year":"2020","day":268.6,"ret":49},{"year":"2020","day":270.3,"ret":49},{"year":"2020","day":271.8,"ret":49.7},{"year":"2020","day":273.1,"ret":49.3},{"year":"2020","day":274.7,"ret":47.8},{"year":"2020","day":276.4,"ret":46.5},{"year":"2020","day":277.5,"ret":49},{"year":"2020","day":278.6,"ret":47.4},{"year":"2020","day":279.7,"ret":48.4},{"year":"2020","day":280.8,"ret":50.3},{"year":"2020","day":281.9,"ret":53.1},{"year":"2020","day":283.4,"ret":56.8},{"year":"2020","day":284.9,"ret":59.9},{"year":"2020","day":286.5,"ret":59},{"year":"2020","day":287.9,"ret":59.9},{"year":"2020","day":289.3,"ret":57.5},{"year":"2020","day":290.4,"ret":59},{"year":"2020","day":291.5,"ret":62.8},{"year":"2020","day":292.9,"ret":66.2},{"year":"2020","day":294.1,"ret":77.9},{"year":"2020","day":294.8,"ret":79.8},{"year":"2020","day":296.3,"ret":79.8},{"year":"2020","day":297.4,"ret":81.7},{"year":"2020","day":298.7,"ret":81.7},{"year":"2020","day":299.8,"ret":89.2},{"year":"2020","day":300.9,"ret":84.5},{"year":"2020","day":302,"ret":86.4},{"year":"2020","day":303.1,"ret":88.3},{"year":"2020","day":304.2,"ret":91.5},{"year":"2020","day":305.3,"ret":91.1},{"year":"2020","day":306.7,"ret":94},{"year":"2020","day":307.8,"ret":96.8},{"year":"2020","day":308.4,"ret":111},{"year":"2020","day":309.6,"ret":113.8},{"year":"2020","day":310.7,"ret":114.7},{"year":"2020","day":311.8,"ret":115.7},{"year":"2020","day":313.1,"ret":113.8},{"year":"2020","day":314.2,"ret":117.6},{"year":"2020","day":315.3,"ret":122.3},{"year":"2020","day":316.6,"ret":126},{"year":"2020","day":317.6,"ret":121},{"year":"2020","day":318.6,"ret":118.6},{"year":"2020","day":319.7,"ret":130},{"year":"2020","day":320.8,"ret":145.1},{"year":"2020","day":321.9,"ret":147},{"year":"2020","day":323,"ret":147.3},{"year":"2020","day":323.9,"ret":159.3},{"year":"2020","day":325.1,"ret":159.8},{"year":"2020","day":326.2,"ret":155.5},{"year":"2020","day":326.9,"ret":154.9},{"year":"2020","day":328,"ret":166.3},{"year":"2020","day":329.1,"ret":160.2},{"year":"2020","day":329.9,"ret":138.4},{"year":"2020","day":331,"ret":138.4},{"year":"2020","day":331.9,"ret":146},{"year":"2020","day":333,"ret":152.7},{"year":"2020","day":333.9,"ret":173.9},{"year":"2020","day":335,"ret":161.2},{"year":"2020","day":336.1,"ret":167.8},{"year":"2020","day":337.1,"ret":169.7},{"year":"2020","day":338,"ret":160.2},{"year":"2020","day":339.1,"ret":166.9},{"year":"2020","day":340.2,"ret":168.8},{"year":"2020","day":341.3,"ret":165},{"year":"2020","day":342.1,"ret":154.9},{"year":"2020","day":343,"ret":156.8},{"year":"2020","day":344.1,"ret":150.8},{"year":"2020","day":345.2,"ret":157.4},{"year":"2020","day":346.3,"ret":164},{"year":"2020","day":347.4,"ret":166.9},{"year":"2020","day":348.9,"ret":169.7},{"year":"2020","day":349.6,"ret":188.6},{"year":"2020","day":351,"ret":217},{"year":"2020","day":351.8,"ret":219.9},{"year":"2020","day":352.9,"ret":231.3},{"year":"2020","day":354,"ret":222.7},{"year":"2020","day":354.9,"ret":215.2},{"year":"2020","day":356,"ret":230.7},{"year":"2020","day":357.2,"ret":222.7},{"year":"2020","day":358.3,"ret":230.3},{"year":"2020","day":359,"ret":243.6},{"year":"2020","day":359.9,"ret":267.8},{"year":"2020","day":360.9,"ret":265.3},{"year":"2020","day":361.8,"ret":275.8},{"year":"2020","day":362.9,"ret":280.5},{"year":"2020","day":364,"ret":301.3},{"year":"2020","day":364.7,"ret":301.3},
{"year":"2021","day":0,"ret":0},{"year":"2021","day":0.9,"ret":9.5},{"year":"2021","day":1.8,"ret":12.3},{"year":"2021","day":2.9,"ret":10.4},{"year":"2021","day":4.2,"ret":22.7},{"year":"2021","day":5.9,"ret":34},{"year":"2021","day":7,"ret":38.4},{"year":"2021","day":8.1,"ret":35.9},{"year":"2021","day":9.2,"ret":28.4},{"year":"2021","day":10.3,"ret":18},{"year":"2021","day":11.1,"ret":17},{"year":"2021","day":12,"ret":28.4},{"year":"2021","day":12.9,"ret":33.6},{"year":"2021","day":13.7,"ret":26.5},{"year":"2021","day":14.8,"ret":23.6},{"year":"2021","day":15.9,"ret":24.6},{"year":"2021","day":17,"ret":22.7},{"year":"2021","day":18.1,"ret":21.7},{"year":"2021","day":19.2,"ret":16},{"year":"2021","day":20,"ret":5.7},{"year":"2021","day":20.9,"ret":12.3},{"year":"2021","day":22,"ret":9.5},{"year":"2021","day":23.1,"ret":10.4},{"year":"2021","day":24.8,"ret":9.5},{"year":"2021","day":25.9,"ret":3.8},{"year":"2021","day":26.7,"ret":12.3},{"year":"2021","day":27.6,"ret":17},{"year":"2021","day":28.7,"ret":13.2},{"year":"2021","day":29.8,"ret":13.2},{"year":"2021","day":30.9,"ret":16},{"year":"2021","day":32.6,"ret":22.7},{"year":"2021","day":33.7,"ret":28.4},{"year":"2021","day":35.3,"ret":33},{"year":"2021","day":37,"ret":37.8},{"year":"2021","day":37.6,"ret":49},{"year":"2021","day":38.1,"ret":57.7},{"year":"2021","day":39,"ret":57.7},{"year":"2021","day":39.8,"ret":53},{"year":"2021","day":40.9,"ret":63.3},{"year":"2021","day":42,"ret":60.5},{"year":"2021","day":43.1,"ret":61.4},{"year":"2021","day":44.2,"ret":64.3},{"year":"2021","day":45.3,"ret":66.2},{"year":"2021","day":46.4,"ret":77.5},{"year":"2021","day":47.6,"ret":76.6},{"year":"2021","day":48.7,"ret":89.8},{"year":"2021","day":49.8,"ret":92.6},{"year":"2021","day":50.9,"ret":95.5},{"year":"2021","day":51.8,"ret":88.8},{"year":"2021","day":52.6,"ret":77.5},{"year":"2021","day":53.1,"ret":67},{"year":"2021","day":54.2,"ret":68.9},{"year":"2021","day":55.3,"ret":60.5},{"year":"2021","day":56.4,"ret":56.7},{"year":"2021","day":58.1,"ret":53.9},{"year":"2021","day":58.7,"ret":64.3},{"year":"2021","day":59.8,"ret":70.9},{"year":"2021","day":60.9,"ret":65.2},{"year":"2021","day":61.4,"ret":70.9},{"year":"2021","day":62.6,"ret":65.2},{"year":"2021","day":64.2,"ret":67},{"year":"2021","day":65.3,"ret":75.6},{"year":"2021","day":67,"ret":87},{"year":"2021","day":68.4,"ret":96.4},{"year":"2021","day":69.8,"ret":96.4},{"year":"2021","day":70.9,"ret":108.7},{"year":"2021","day":72,"ret":100.2},{"year":"2021","day":73.1,"ret":89.8},{"year":"2021","day":74.2,"ret":96.4},{"year":"2021","day":75.1,"ret":101},{"year":"2021","day":75.9,"ret":96.4},{"year":"2021","day":77,"ret":98.3},{"year":"2021","day":78.7,"ret":97.4},{"year":"2021","day":79.8,"ret":86},{"year":"2021","day":80.9,"ret":83.2},{"year":"2021","day":82,"ret":77.5},{"year":"2021","day":83.1,"ret":74.7},{"year":"2021","day":84.2,"ret":86},{"year":"2021","day":85.9,"ret":87.9},{"year":"2021","day":87,"ret":93.6},{"year":"2021","day":88,"ret":100.4},{"year":"2021","day":89.7,"ret":100.4},{"year":"2021","day":91,"ret":100.8},{"year":"2021","day":91.9,"ret":94.7},{"year":"2021","day":93,"ret":98.5},{"year":"2021","day":94.1,"ret":101.3},{"year":"2021","day":95,"ret":98.5},{"year":"2021","day":96,"ret":90.9},{"year":"2021","day":96.9,"ret":97.5},{"year":"2021","day":98,"ret":98.5},{"year":"2021","day":99.1,"ret":103.8},{"year":"2021","day":100.2,"ret":104.5},{"year":"2021","day":101.1,"ret":104.2},{"year":"2021","day":101.9,"ret":116.5},{"year":"2021","day":102.8,"ret":115.2},{"year":"2021","day":103.9,"ret":115.2},{"year":"2021","day":105,"ret":108},{"year":"2021","day":106.1,"ret":104.2},{"year":"2021","day":106.9,"ret":91.9},{"year":"2021","day":107.8,"ret":90},{"year":"2021","day":108.7,"ret":91.9},{"year":"2021","day":109.6,"ret":83.3},{"year":"2021","day":110.8,"ret":78.7},{"year":"2021","day":111.9,"ret":74},{"year":"2021","day":113,"ret":70.2},{"year":"2021","day":113.9,"ret":67.4},{"year":"2021","day":115,"ret":83.5},{"year":"2021","day":116.3,"ret":88.2},{"year":"2021","day":117.6,"ret":83.5},{"year":"2021","day":118.7,"ret":96.6},{"year":"2021","day":119.8,"ret":96.6},{"year":"2021","day":120.9,"ret":93.8},{"year":"2021","day":122,"ret":95.1},{"year":"2021","day":122.9,"ret":82.4},{"year":"2021","day":124,"ret":95.6},{"year":"2021","day":125.1,"ret":93.2},{"year":"2021","day":126.2,"ret":97.5},{"year":"2021","day":127.1,"ret":100.4},{"year":"2021","day":128.2,"ret":98.5},{"year":"2021","day":129,"ret":90.9},{"year":"2021","day":129.8,"ret":93.8},{"year":"2021","day":130.5,"ret":74},{"year":"2021","day":131.2,"ret":70.2},{"year":"2021","day":132.4,"ret":69.3},{"year":"2021","day":133.5,"ret":70.2},{"year":"2021","day":134.6,"ret":58.8},{"year":"2021","day":135.7,"ret":51.2},{"year":"2021","day":136.8,"ret":41.7},{"year":"2021","day":137.9,"ret":25.6},{"year":"2021","day":138.7,"ret":38},{"year":"2021","day":139.5,"ret":32.3},{"year":"2021","day":140.7,"ret":28.5},{"year":"2021","day":141.8,"ret":19},{"year":"2021","day":142.9,"ret":32.3},{"year":"2021","day":144,"ret":30.4},{"year":"2021","day":145.1,"ret":33.2},{"year":"2021","day":146.2,"ret":29.4},{"year":"2021","day":147.9,"ret":19},{"year":"2021","day":149,"ret":28.5},{"year":"2021","day":150.1,"ret":25.6},{"year":"2021","day":151.2,"ret":30.4},{"year":"2021","day":152.3,"ret":34.2},{"year":"2021","day":153.4,"ret":25.6},{"year":"2021","day":154.5,"ret":27.5},{"year":"2021","day":155.6,"ret":20.9},{"year":"2021","day":156.7,"ret":23.7},{"year":"2021","day":157.8,"ret":14.2},{"year":"2021","day":158.9,"ret":26.6},{"year":"2021","day":160,"ret":25.6},{"year":"2021","day":161.1,"ret":26.6},{"year":"2021","day":162,"ret":31.3},{"year":"2021","day":163,"ret":34.2},{"year":"2021","day":163.9,"ret":38},{"year":"2021","day":165,"ret":36.1},{"year":"2021","day":166.1,"ret":32.3},{"year":"2021","day":167.2,"ret":26.6},{"year":"2021","day":168.3,"ret":22.8},{"year":"2021","day":169.4,"ret":21.8},{"year":"2021","day":170.5,"ret":8.5},{"year":"2021","day":171.7,"ret":13.3},{"year":"2021","day":172.8,"ret":17.1},{"year":"2021","day":173.9,"ret":18},{"year":"2021","day":175,"ret":8.5},{"year":"2021","day":176.1,"ret":14.2},{"year":"2021","day":177.2,"ret":19},{"year":"2021","day":178.3,"ret":18},{"year":"2021","day":179.2,"ret":21.8},{"year":"2021","day":180.3,"ret":17.1},{"year":"2021","day":181.4,"ret":15.2},{"year":"2021","day":182.7,"ret":19},{"year":"2021","day":184,"ret":20.5},{"year":"2021","day":185.1,"ret":15.2},{"year":"2021","day":186.2,"ret":16.7},{"year":"2021","day":187.3,"ret":15.2},{"year":"2021","day":188.4,"ret":12.3},{"year":"2021","day":189.5,"ret":15.2},{"year":"2021","day":190.6,"ret":16.7},{"year":"2021","day":191.7,"ret":13.3},{"year":"2021","day":192.8,"ret":11.4},{"year":"2021","day":193.9,"ret":11},{"year":"2021","day":195,"ret":8},{"year":"2021","day":196.1,"ret":6.6},{"year":"2021","day":197.8,"ret":7.6},{"year":"2021","day":198.9,"ret":4.7},{"year":"2021","day":200,"ret":1.5},{"year":"2021","day":201.1,"ret":9.5},{"year":"2021","day":202.2,"ret":10.4},{"year":"2021","day":203.3,"ret":15.2},{"year":"2021","day":205,"ret":20.9},{"year":"2021","day":206.4,"ret":34.2},{"year":"2021","day":208,"ret":36.1},{"year":"2021","day":209.1,"ret":38},{"year":"2021","day":210,"ret":43.6},{"year":"2021","day":211.3,"ret":38},{"year":"2021","day":212.4,"ret":34.2},{"year":"2021","day":214.2,"ret":30.4},{"year":"2021","day":215.5,"ret":38},{"year":"2021","day":216.6,"ret":41.7},{"year":"2021","day":217.7,"ret":49.3},{"year":"2021","day":218.6,"ret":50.3},{"year":"2021","day":219.4,"ret":51.2},{"year":"2021","day":220.5,"ret":57.9},{"year":"2021","day":221.6,"ret":56},{"year":"2021","day":222.7,"ret":53.1},{"year":"2021","day":223.8,"ret":61.7},{"year":"2021","day":224.9,"ret":59.8},{"year":"2021","day":226.6,"ret":57.9},{"year":"2021","day":227.7,"ret":52.2},{"year":"2021","day":228.8,"ret":52.2},{"year":"2021","day":229.9,"ret":55},{"year":"2021","day":231,"ret":68.3},{"year":"2021","day":232.1,"ret":65.5},{"year":"2021","day":233,"ret":67.4},{"year":"2021","day":234.1,"ret":68.7},{"year":"2021","day":235.2,"ret":62.6},{"year":"2021","day":236.3,"ret":67.4},{"year":"2021","day":237.4,"ret":59.8},{"year":"2021","day":238.2,"ret":61.7},{"year":"2021","day":239.3,"ret":65.5},{"year":"2021","day":240.1,"ret":66.4},{"year":"2021","day":241,"ret":58.8},{"year":"2021","day":242.1,"ret":61.7},{"year":"2021","day":243.2,"ret":66.4},{"year":"2021","day":244.3,"ret":70.2},{"year":"2021","day":245.4,"ret":70.6},{"year":"2021","day":246.5,"ret":74},{"year":"2021","day":247.6,"ret":79.7},{"year":"2021","day":248.4,"ret":78.7},{"year":"2021","day":249.3,"ret":57.9},{"year":"2021","day":250.4,"ret":57.9},{"year":"2021","day":251.5,"ret":57.9},{"year":"2021","day":252.6,"ret":53.1},{"year":"2021","day":253.7,"ret":56},{"year":"2021","day":254.8,"ret":59.8},{"year":"2021","day":255.9,"ret":62.6},{"year":"2021","day":257,"ret":64.5},{"year":"2021","day":258.1,"ret":62.6},{"year":"2021","day":259.2,"ret":61.7},{"year":"2021","day":260.3,"ret":63.6},{"year":"2021","day":261.1,"ret":61.7},{"year":"2021","day":262,"ret":49.3},{"year":"2021","day":262.9,"ret":38.9},{"year":"2021","day":264,"ret":47.4},{"year":"2021","day":264.8,"ret":53.1},{"year":"2021","day":265.9,"ret":45.5},{"year":"2021","day":267,"ret":48.4},{"year":"2021","day":268.1,"ret":47.4},{"year":"2021","day":269.2,"ret":43.6},{"year":"2021","day":270.3,"ret":39.8},{"year":"2021","day":271.4,"ret":43.6},{"year":"2021","day":272.5,"ret":55},{"year":"2021","day":273.3,"ret":65.5},{"year":"2021","day":274.4,"ret":63.6},{"year":"2021","day":275.8,"ret":67.4},{"year":"2021","day":276.9,"ret":75},{"year":"2021","day":277.7,"ret":89.2},{"year":"2021","day":278.6,"ret":87.3},{"year":"2021","day":279.7,"ret":83.9},{"year":"2021","day":280.6,"ret":86.3},{"year":"2021","day":281.7,"ret":88.2},{"year":"2021","day":283,"ret":95.8},{"year":"2021","day":283.9,"ret":92},{"year":"2021","day":285.2,"ret":95.8},{"year":"2021","day":286.5,"ret":110},{"year":"2021","day":287.6,"ret":108.1},{"year":"2021","day":288.7,"ret":109.1},{"year":"2021","day":289.8,"ret":111},{"year":"2021","day":291,"ret":117.6},{"year":"2021","day":292.1,"ret":125.1},{"year":"2021","day":293.2,"ret":111},{"year":"2021","day":294.3,"ret":108.1},{"year":"2021","day":295.4,"ret":108.1},{"year":"2021","day":296.3,"ret":106.2},{"year":"2021","day":297,"ret":115.7},{"year":"2021","day":298.2,"ret":106.2},{"year":"2021","day":299.3,"ret":98.7},{"year":"2021","day":300.4,"ret":108.1},{"year":"2021","day":301.5,"ret":111.9},{"year":"2021","day":302.6,"ret":111},{"year":"2021","day":303.7,"ret":108.1},{"year":"2021","day":304.8,"ret":114.7},{"year":"2021","day":305.9,"ret":113.8},{"year":"2021","day":307,"ret":109.1},{"year":"2021","day":308.1,"ret":108.1},{"year":"2021","day":309.2,"ret":110},{"year":"2021","day":310.3,"ret":113.8},{"year":"2021","day":311.1,"ret":130.3},{"year":"2021","day":312,"ret":124.2},{"year":"2021","day":313.1,"ret":122.3},{"year":"2021","day":314.2,"ret":120.5},{"year":"2021","day":315.3,"ret":124.2},{"year":"2021","day":316.4,"ret":120.5},{"year":"2021","day":317.5,"ret":121.4},{"year":"2021","day":318.6,"ret":106.2},{"year":"2021","day":319.7,"ret":105.3},{"year":"2021","day":320.8,"ret":94},{"year":"2021","day":321.9,"ret":96.8},{"year":"2021","day":323,"ret":103.4},{"year":"2021","day":324.2,"ret":97.7},{"year":"2021","day":325.1,"ret":92.1},{"year":"2021","day":326.2,"ret":95.8},{"year":"2021","day":327.3,"ret":94.9},{"year":"2021","day":328,"ret":102.5},{"year":"2021","day":329.1,"ret":83.6},{"year":"2021","day":329.9,"ret":86.4},{"year":"2021","day":331,"ret":93},{"year":"2021","day":331.9,"ret":96.8},{"year":"2021","day":333,"ret":94.9},{"year":"2021","day":334.1,"ret":94},{"year":"2021","day":335.2,"ret":93},{"year":"2021","day":336,"ret":86.4},{"year":"2021","day":336.9,"ret":67.5},{"year":"2021","day":338,"ret":68.4},{"year":"2021","day":339.1,"ret":72.2},{"year":"2021","day":340.8,"ret":72.2},{"year":"2021","day":341.9,"ret":62.8},{"year":"2021","day":343,"ret":61.8},{"year":"2021","day":344.1,"ret":70.3},{"year":"2021","day":345.2,"ret":70.3},{"year":"2021","day":346.1,"ret":59.9},{"year":"2021","day":347.4,"ret":66.5},{"year":"2021","day":348.3,"ret":65.6},{"year":"2021","day":349.1,"ret":62.8},{"year":"2021","day":350,"ret":57.5},{"year":"2021","day":351.3,"ret":59.9},{"year":"2021","day":352.9,"ret":59.9},{"year":"2021","day":354,"ret":66.9},{"year":"2021","day":354.9,"ret":66.5},{"year":"2021","day":356,"ret":73.7},{"year":"2021","day":357.4,"ret":72.2},{"year":"2021","day":358.7,"ret":73.2},{"year":"2021","day":360.1,"ret":73.2},{"year":"2021","day":360.9,"ret":62.8},{"year":"2021","day":361.8,"ret":58.6},{"year":"2021","day":362.7,"ret":60.9},{"year":"2021","day":363.8,"ret":58},
{"year":"2022","day":0,"ret":0},{"year":"2022","day":1.4,"ret":-0.9},{"year":"2022","day":3.1,"ret":-3.8},{"year":"2022","day":4.2,"ret":-5.7},{"year":"2022","day":5.3,"ret":-9.5},{"year":"2022","day":6.4,"ret":-12.9},{"year":"2022","day":8.1,"ret":-12.3},{"year":"2022","day":9.8,"ret":-11.3},{"year":"2022","day":11.4,"ret":-8.5},{"year":"2022","day":12.6,"ret":-9.5},{"year":"2022","day":13.7,"ret":-9.1},{"year":"2022","day":14.8,"ret":-11.3},{"year":"2022","day":16.4,"ret":-11.3},{"year":"2022","day":17.6,"ret":-13.2},{"year":"2022","day":18.7,"ret":-18.9},{"year":"2022","day":19.8,"ret":-23.6},{"year":"2022","day":20.9,"ret":-26.5},{"year":"2022","day":22,"ret":-24.6},{"year":"2022","day":23.3,"ret":-23.6},{"year":"2022","day":24.8,"ret":-23.1},{"year":"2022","day":26.4,"ret":-21.7},{"year":"2022","day":27.6,"ret":-18.9},{"year":"2022","day":29.2,"ret":-19.8},{"year":"2022","day":30.3,"ret":-17},{"year":"2022","day":31.4,"ret":-16},{"year":"2022","day":32.6,"ret":-19.8},{"year":"2022","day":33.7,"ret":-13.2},{"year":"2022","day":35.3,"ret":-11.3},{"year":"2022","day":37,"ret":-9.5},{"year":"2022","day":38.1,"ret":-7.6},{"year":"2022","day":39.2,"ret":-7.2},{"year":"2022","day":40.3,"ret":-9.8},{"year":"2022","day":41.4,"ret":-11.3},{"year":"2022","day":43.1,"ret":-10.4},{"year":"2022","day":44.2,"ret":-9.5},{"year":"2022","day":45.3,"ret":-6.6},{"year":"2022","day":46.4,"ret":-13.2},{"year":"2022","day":47.6,"ret":-15.1},{"year":"2022","day":49.2,"ret":-16},{"year":"2022","day":50.3,"ret":-15.1},{"year":"2022","day":51.4,"ret":-18.9},{"year":"2022","day":52.6,"ret":-21.7},{"year":"2022","day":53.7,"ret":-17},{"year":"2022","day":54.8,"ret":-19.8},{"year":"2022","day":55.9,"ret":-18},{"year":"2022","day":57,"ret":-19.8},{"year":"2022","day":58.1,"ret":-15.1},{"year":"2022","day":59.2,"ret":-7.6},{"year":"2022","day":60.3,"ret":-9.5},{"year":"2022","day":61.4,"ret":-15.1},{"year":"2022","day":62.6,"ret":-16},{"year":"2022","day":63.7,"ret":-17},{"year":"2022","day":64.8,"ret":-15.1},{"year":"2022","day":65.9,"ret":-17},{"year":"2022","day":67,"ret":-13.2},{"year":"2022","day":68.1,"ret":-17},{"year":"2022","day":69.2,"ret":-18.9},{"year":"2022","day":70.3,"ret":-18.9},{"year":"2022","day":71.4,"ret":-19.8},{"year":"2022","day":72.6,"ret":-17},{"year":"2022","day":73.7,"ret":-16},{"year":"2022","day":74.8,"ret":-14.2},{"year":"2022","day":75.9,"ret":-12.3},{"year":"2022","day":77,"ret":-12.3},{"year":"2022","day":78.1,"ret":-14.2},{"year":"2022","day":79.2,"ret":-12.3},{"year":"2022","day":80.3,"ret":-11.3},{"year":"2022","day":81.4,"ret":-9.5},{"year":"2022","day":82.6,"ret":-7.6},{"year":"2022","day":83.7,"ret":-8.5},{"year":"2022","day":84.8,"ret":-2.8},{"year":"2022","day":85.9,"ret":-0.9},{"year":"2022","day":87,"ret":-1.2},{"year":"2022","day":88.6,"ret":-4.7},{"year":"2022","day":89.7,"ret":-3.8},{"year":"2022","day":90.8,"ret":-4.7},{"year":"2022","day":92,"ret":-3.8},{"year":"2022","day":93.1,"ret":-3.8},{"year":"2022","day":94.2,"ret":-6.6},{"year":"2022","day":95.3,"ret":-9.5},{"year":"2022","day":96.4,"ret":-10.4},{"year":"2022","day":97.5,"ret":-11.4},{"year":"2022","day":98.6,"ret":-13.3},{"year":"2022","day":99.7,"ret":-16.1},{"year":"2022","day":100.8,"ret":-15.2},{"year":"2022","day":101.9,"ret":-14.2},{"year":"2022","day":103,"ret":-16.1},{"year":"2022","day":104.1,"ret":-15.2},{"year":"2022","day":105.2,"ret":-16.1},{"year":"2022","day":106.3,"ret":-15.2},{"year":"2022","day":107.4,"ret":-14.2},{"year":"2022","day":108.6,"ret":-13.3},{"year":"2022","day":109.7,"ret":-15.2},{"year":"2022","day":110.8,"ret":-16.1},{"year":"2022","day":111.9,"ret":-17.1},{"year":"2022","day":113,"ret":-18},{"year":"2022","day":114.1,"ret":-17.1},{"year":"2022","day":115.2,"ret":-19.9},{"year":"2022","day":116.3,"ret":-18},{"year":"2022","day":117.4,"ret":-17.1},{"year":"2022","day":118.5,"ret":-19},{"year":"2022","day":119.6,"ret":-20.9},{"year":"2022","day":120.7,"ret":-19.9},{"year":"2022","day":121.8,"ret":-19.9},{"year":"2022","day":122.9,"ret":-17.1},{"year":"2022","day":123.7,"ret":-22.8},{"year":"2022","day":125.2,"ret":-25.6},{"year":"2022","day":126.3,"ret":-28.5},{"year":"2022","day":127.4,"ret":-32.3},{"year":"2022","day":128.5,"ret":-36.4},{"year":"2022","day":129.6,"ret":-38.9},{"year":"2022","day":130.7,"ret":-38},{"year":"2022","day":131.8,"ret":-37},{"year":"2022","day":132.9,"ret":-36.1},{"year":"2022","day":134,"ret":-35.1},{"year":"2022","day":135.1,"ret":-36.1},{"year":"2022","day":136.2,"ret":-38},{"year":"2022","day":137.3,"ret":-37},{"year":"2022","day":138.4,"ret":-37},{"year":"2022","day":139.5,"ret":-38},{"year":"2022","day":140.7,"ret":-37},{"year":"2022","day":141.8,"ret":-38},{"year":"2022","day":142.9,"ret":-38},{"year":"2022","day":144,"ret":-38.9},{"year":"2022","day":146.2,"ret":-38.9},{"year":"2022","day":147.9,"ret":-37.6},{"year":"2022","day":149,"ret":-33.8},{"year":"2022","day":150.1,"ret":-34.2},{"year":"2022","day":151,"ret":-37},{"year":"2022","day":152,"ret":-33.2},{"year":"2022","day":153.4,"ret":-37},{"year":"2022","day":154.5,"ret":-37},{"year":"2022","day":155.6,"ret":-36.1},{"year":"2022","day":156.7,"ret":-34.5},{"year":"2022","day":157.8,"ret":-36.1},{"year":"2022","day":158.9,"ret":-37},{"year":"2022","day":160,"ret":-38.9},{"year":"2022","day":161.1,"ret":-42.7},{"year":"2022","day":162.2,"ret":-51.2},{"year":"2022","day":163.4,"ret":-52.2},{"year":"2022","day":164.5,"ret":-53.1},{"year":"2022","day":166.1,"ret":-56},{"year":"2022","day":167.8,"ret":-59.8},{"year":"2022","day":168.9,"ret":-56.9},{"year":"2022","day":170,"ret":-56.9},{"year":"2022","day":171.7,"ret":-57.9},{"year":"2022","day":172.8,"ret":-55},{"year":"2022","day":174.4,"ret":-54.1},{"year":"2022","day":176.1,"ret":-55},{"year":"2022","day":177.7,"ret":-56},{"year":"2022","day":179.4,"ret":-57.9},{"year":"2022","day":181.1,"ret":-58.8},{"year":"2022","day":182.2,"ret":-59.8},{"year":"2022","day":183.3,"ret":-58.8},{"year":"2022","day":184.5,"ret":-56.5},{"year":"2022","day":186.2,"ret":-56},{"year":"2022","day":187.8,"ret":-55},{"year":"2022","day":189,"ret":-56},{"year":"2022","day":190.6,"ret":-57.9},{"year":"2022","day":192,"ret":-59.8},{"year":"2022","day":193.4,"ret":-57.9},{"year":"2022","day":194.7,"ret":-56.5},{"year":"2022","day":196.1,"ret":-56},{"year":"2022","day":197.6,"ret":-56},{"year":"2022","day":198.9,"ret":-51.2},{"year":"2022","day":200.6,"ret":-51.2},{"year":"2022","day":202.2,"ret":-52.2},{"year":"2022","day":203.9,"ret":-53.1},{"year":"2022","day":205.5,"ret":-55.4},{"year":"2022","day":206.9,"ret":-52.2},{"year":"2022","day":208.3,"ret":-50.3},{"year":"2022","day":210,"ret":-50.3},{"year":"2022","day":211.6,"ret":-50.9},{"year":"2022","day":213.3,"ret":-51.2},{"year":"2022","day":215,"ret":-52.2},{"year":"2022","day":216.6,"ret":-51.2},{"year":"2022","day":218.3,"ret":-52.2},{"year":"2022","day":219.9,"ret":-50.3},{"year":"2022","day":221.6,"ret":-49.3},{"year":"2022","day":223.3,"ret":-49},{"year":"2022","day":224.9,"ret":-49.3},{"year":"2022","day":226.6,"ret":-50.3},{"year":"2022","day":228.2,"ret":-51.6},{"year":"2022","day":229.9,"ret":-56},{"year":"2022","day":231.6,"ret":-55},{"year":"2022","day":233.2,"ret":-55.4},{"year":"2022","day":234.9,"ret":-55.4},{"year":"2022","day":236.5,"ret":-56},{"year":"2022","day":238.2,"ret":-58.4},{"year":"2022","day":239.9,"ret":-58.4},{"year":"2022","day":241.5,"ret":-57.9},{"year":"2022","day":243.2,"ret":-57.9},{"year":"2022","day":244.8,"ret":-58.4},{"year":"2022","day":246.5,"ret":-58.8},{"year":"2022","day":248.2,"ret":-60.3},{"year":"2022","day":249.8,"ret":-58.8},{"year":"2022","day":250.9,"ret":-55},{"year":"2022","day":252.6,"ret":-54.1},{"year":"2022","day":254,"ret":-54.1},{"year":"2022","day":254.8,"ret":-57.9},{"year":"2022","day":256.5,"ret":-57.9},{"year":"2022","day":258.1,"ret":-58.8},{"year":"2022","day":259.8,"ret":-58.8},{"year":"2022","day":261.1,"ret":-60.3},{"year":"2022","day":262.6,"ret":-61.7},{"year":"2022","day":264.2,"ret":-59.8},{"year":"2022","day":265.9,"ret":-60.7},{"year":"2022","day":267.5,"ret":-60.3},{"year":"2022","day":269.2,"ret":-59.8},{"year":"2022","day":270.9,"ret":-59.2},{"year":"2022","day":272.5,"ret":-59.8},{"year":"2022","day":274.2,"ret":-60.3},{"year":"2022","day":275.8,"ret":-57.9},{"year":"2022","day":277.5,"ret":-58.4},{"year":"2022","day":279.2,"ret":-59.2},{"year":"2022","day":280.8,"ret":-59.8},{"year":"2022","day":282.5,"ret":-59.8},{"year":"2022","day":284.1,"ret":-59.2},{"year":"2022","day":286.5,"ret":-59.2},{"year":"2022","day":288.7,"ret":-58.6},{"year":"2022","day":291,"ret":-59.7},{"year":"2022","day":293.2,"ret":-59.2},{"year":"2022","day":295.4,"ret":-58.8},{"year":"2022","day":297,"ret":-57.3},{"year":"2022","day":298.7,"ret":-56.3},{"year":"2022","day":300.9,"ret":-56.3},{"year":"2022","day":303.1,"ret":-56.7},{"year":"2022","day":305.3,"ret":-57.3},{"year":"2022","day":307,"ret":-55.4},{"year":"2022","day":308.1,"ret":-54.8},{"year":"2022","day":309.2,"ret":-56.3},{"year":"2022","day":310.3,"ret":-59.2},{"year":"2022","day":311.1,"ret":-62.9},{"year":"2022","day":312,"ret":-66.2},{"year":"2022","day":313.1,"ret":-62.9},{"year":"2022","day":314.8,"ret":-64.3},{"year":"2022","day":316.4,"ret":-64.8},{"year":"2022","day":318.1,"ret":-64.3},{"year":"2022","day":319.7,"ret":-64.3},{"year":"2022","day":321.4,"ret":-64.5},{"year":"2022","day":323.1,"ret":-65.8},{"year":"2022","day":324.7,"ret":-65.8},{"year":"2022","day":326.4,"ret":-65.4},{"year":"2022","day":328.6,"ret":-65.8},{"year":"2022","day":330.8,"ret":-65.8},{"year":"2022","day":332.5,"ret":-64.3},{"year":"2022","day":334.1,"ret":-63.9},{"year":"2022","day":336.3,"ret":-63.9},{"year":"2022","day":338.6,"ret":-63.9},{"year":"2022","day":340.8,"ret":-63.9},{"year":"2022","day":343,"ret":-63.5},{"year":"2022","day":345.2,"ret":-62.9},{"year":"2022","day":346.3,"ret":-62.4},{"year":"2022","day":348,"ret":-64.3},{"year":"2022","day":349.6,"ret":-64.8},{"year":"2022","day":351.8,"ret":-64.3},{"year":"2022","day":354,"ret":-64.3},{"year":"2022","day":356.3,"ret":-64.3},{"year":"2022","day":358.5,"ret":-64.3},{"year":"2022","day":360.7,"ret":-64.5},{"year":"2022","day":363.8,"ret":-64.8},
{"year":"2023","day":0,"ret":0},{"year":"2023","day":0.9,"ret":0.9},{"year":"2023","day":2.6,"ret":1.9},{"year":"2023","day":4.2,"ret":2.8},{"year":"2023","day":6.4,"ret":3.8},{"year":"2023","day":8.1,"ret":4.7},{"year":"2023","day":9.2,"ret":6.6},{"year":"2023","day":10.3,"ret":13.2},{"year":"2023","day":11.4,"ret":20.8},{"year":"2023","day":12.6,"ret":25.5},{"year":"2023","day":13.7,"ret":26.8},{"year":"2023","day":14.8,"ret":27.4},{"year":"2023","day":15.9,"ret":25.5},{"year":"2023","day":17,"ret":27.4},{"year":"2023","day":18.1,"ret":29.3},{"year":"2023","day":18.9,"ret":35.9},{"year":"2023","day":19.8,"ret":36.9},{"year":"2023","day":20.9,"ret":37.2},{"year":"2023","day":22,"ret":37.8},{"year":"2023","day":22.9,"ret":36.3},{"year":"2023","day":23.7,"ret":38.4},{"year":"2023","day":24.8,"ret":38.8},{"year":"2023","day":25.9,"ret":38.8},{"year":"2023","day":27,"ret":40.6},{"year":"2023","day":27.6,"ret":37.8},{"year":"2023","day":28.7,"ret":39.7},{"year":"2023","day":30,"ret":42.5},{"year":"2023","day":31.4,"ret":41.6},{"year":"2023","day":32.6,"ret":40.6},{"year":"2023","day":34.2,"ret":39.7},{"year":"2023","day":35.6,"ret":37.8},{"year":"2023","day":36.7,"ret":37.8},{"year":"2023","day":37.8,"ret":38.8},{"year":"2023","day":38.7,"ret":35.9},{"year":"2023","day":39.8,"ret":30.6},{"year":"2023","day":40.9,"ret":30.6},{"year":"2023","day":42,"ret":32.1},{"year":"2023","day":43.1,"ret":31.8},{"year":"2023","day":44,"ret":32.1},{"year":"2023","day":44.8,"ret":45.4},{"year":"2023","day":45.9,"ret":43.5},{"year":"2023","day":47,"ret":47.3},{"year":"2023","day":48.4,"ret":48.2},{"year":"2023","day":49.2,"ret":46.3},{"year":"2023","day":50,"ret":49.1},{"year":"2023","day":51.1,"ret":46.3},{"year":"2023","day":52.6,"ret":43.9},{"year":"2023","day":54.2,"ret":39.7},{"year":"2023","day":55.9,"ret":40.6},{"year":"2023","day":57.6,"ret":39.7},{"year":"2023","day":59.2,"ret":40.6},{"year":"2023","day":60.9,"ret":35.9},{"year":"2023","day":62,"ret":34.4},{"year":"2023","day":63.7,"ret":35},{"year":"2023","day":65.3,"ret":33.1},{"year":"2023","day":66.4,"ret":27.4},{"year":"2023","day":67.6,"ret":22.7},{"year":"2023","day":68.7,"ret":21.7},{"year":"2023","day":69.8,"ret":26.5},{"year":"2023","day":70.9,"ret":40.6},{"year":"2023","day":72,"ret":46.3},{"year":"2023","day":73.1,"ret":48.2},{"year":"2023","day":74.2,"ret":48.2},{"year":"2023","day":75.1,"ret":62.4},{"year":"2023","day":76.4,"ret":65.2},{"year":"2023","day":77.6,"ret":67.1},{"year":"2023","day":78.7,"ret":65.2},{"year":"2023","day":79.8,"ret":68},{"year":"2023","day":80.9,"ret":64.3},{"year":"2023","day":82,"ret":67.1},{"year":"2023","day":83.1,"ret":68},{"year":"2023","day":84.2,"ret":65.2},{"year":"2023","day":85.3,"ret":67.1},{"year":"2023","day":86.7,"ret":64.3},{"year":"2023","day":87.6,"ret":70},{"year":"2023","day":88.6,"ret":71.2},{"year":"2023","day":90.3,"ret":70.2},{"year":"2023","day":91.9,"ret":67.4},{"year":"2023","day":93.6,"ret":69.8},{"year":"2023","day":95.3,"ret":69.3},{"year":"2023","day":96.9,"ret":68.3},{"year":"2023","day":98,"ret":70.2},{"year":"2023","day":99.1,"ret":79.7},{"year":"2023","day":100.3,"ret":82.5},{"year":"2023","day":101.9,"ret":83.5},{"year":"2023","day":103.6,"ret":82.5},{"year":"2023","day":104.7,"ret":83.5},{"year":"2023","day":105.8,"ret":77.8},{"year":"2023","day":106.9,"ret":82.5},{"year":"2023","day":108,"ret":74},{"year":"2023","day":109.1,"ret":68.3},{"year":"2023","day":109.9,"ret":64.5},{"year":"2023","day":110.8,"ret":68.3},{"year":"2023","day":111.9,"ret":66.4},{"year":"2023","day":113.2,"ret":67.4},{"year":"2023","day":114.3,"ret":70.2},{"year":"2023","day":115.2,"ret":75.9},{"year":"2023","day":116.3,"ret":77.8},{"year":"2023","day":117.4,"ret":75.9},{"year":"2023","day":118.5,"ret":76.9},{"year":"2023","day":119.8,"ret":69.3},{"year":"2023","day":121.3,"ret":74},{"year":"2023","day":122.4,"ret":75.9},{"year":"2023","day":123.5,"ret":74},{"year":"2023","day":124,"ret":77.8},{"year":"2023","day":125.2,"ret":74},{"year":"2023","day":126.3,"ret":70.2},{"year":"2023","day":127.4,"ret":67.4},{"year":"2023","day":128.5,"ret":64.5},{"year":"2023","day":129.6,"ret":63.6},{"year":"2023","day":130.7,"ret":61.7},{"year":"2023","day":131.8,"ret":61.7},{"year":"2023","day":132.9,"ret":62.6},{"year":"2023","day":134,"ret":62.6},{"year":"2023","day":135.1,"ret":64.5},{"year":"2023","day":136.2,"ret":61.7},{"year":"2023","day":137.3,"ret":62.6},{"year":"2023","day":138.4,"ret":63.6},{"year":"2023","day":139.5,"ret":61.7},{"year":"2023","day":140.7,"ret":60.7},{"year":"2023","day":141.8,"ret":63.6},{"year":"2023","day":142.9,"ret":58.8},{"year":"2023","day":144.5,"ret":60.7},{"year":"2023","day":145.6,"ret":61.7},{"year":"2023","day":147.1,"ret":68.7},{"year":"2023","day":148.4,"ret":66.4},{"year":"2023","day":149.5,"ret":63.6},{"year":"2023","day":150.6,"ret":64.5},{"year":"2023","day":151.7,"ret":61.7},{"year":"2023","day":152.8,"ret":62.6},{"year":"2023","day":153.9,"ret":63.6},{"year":"2023","day":154.8,"ret":55},{"year":"2023","day":155.9,"ret":63.6},{"year":"2023","day":157,"ret":60.7},{"year":"2023","day":158.1,"ret":58.8},{"year":"2023","day":159.5,"ret":57.9},{"year":"2023","day":160.6,"ret":56.9},{"year":"2023","day":161.7,"ret":56.9},{"year":"2023","day":163,"ret":55},{"year":"2023","day":163.9,"ret":53.1},{"year":"2023","day":165,"ret":55},{"year":"2023","day":166.1,"ret":58.8},{"year":"2023","day":167.2,"ret":60.7},{"year":"2023","day":168.3,"ret":59.8},{"year":"2023","day":169.2,"ret":62.6},{"year":"2023","day":170,"ret":73.1},{"year":"2023","day":171.1,"ret":79.7},{"year":"2023","day":172.2,"ret":80.6},{"year":"2023","day":173.3,"ret":84.4},{"year":"2023","day":174.4,"ret":83.5},{"year":"2023","day":175.5,"ret":82.5},{"year":"2023","day":176.6,"ret":84.4},{"year":"2023","day":177.7,"ret":81.6},{"year":"2023","day":178.8,"ret":83.5},{"year":"2023","day":180.5,"ret":83.9},{"year":"2023","day":182.2,"ret":84.4},{"year":"2023","day":183.3,"ret":86.3},{"year":"2023","day":184.5,"ret":83.5},{"year":"2023","day":186.2,"ret":80.1},{"year":"2023","day":187.3,"ret":82.5},{"year":"2023","day":189,"ret":81.6},{"year":"2023","day":190.6,"ret":83.9},{"year":"2023","day":191.7,"ret":83.5},{"year":"2023","day":193,"ret":89.2},{"year":"2023","day":193.9,"ret":82.5},{"year":"2023","day":195.6,"ret":82.5},{"year":"2023","day":197.2,"ret":81.2},{"year":"2023","day":198.4,"ret":79.7},{"year":"2023","day":200,"ret":79.7},{"year":"2023","day":201.7,"ret":79.7},{"year":"2023","day":202.8,"ret":80.6},{"year":"2023","day":203.9,"ret":75.9},{"year":"2023","day":205.5,"ret":76.3},{"year":"2023","day":207.2,"ret":76.9},{"year":"2023","day":208.9,"ret":76.3},{"year":"2023","day":210.5,"ret":76.9},{"year":"2023","day":212,"ret":78.7},{"year":"2023","day":213.3,"ret":75.9},{"year":"2023","day":215,"ret":75.5},{"year":"2023","day":216.6,"ret":75.5},{"year":"2023","day":217.7,"ret":76.3},{"year":"2023","day":219.1,"ret":79.1},{"year":"2023","day":220.5,"ret":77.8},{"year":"2023","day":222.2,"ret":77.4},{"year":"2023","day":223.8,"ret":76.9},{"year":"2023","day":225.5,"ret":76.3},{"year":"2023","day":226.6,"ret":73.1},{"year":"2023","day":227.7,"ret":64.5},{"year":"2023","day":228.6,"ret":57.9},{"year":"2023","day":229.9,"ret":57.3},{"year":"2023","day":231.6,"ret":57.9},{"year":"2023","day":233.2,"ret":57.9},{"year":"2023","day":234.9,"ret":56.9},{"year":"2023","day":236.5,"ret":56.9},{"year":"2023","day":238.2,"ret":57.3},{"year":"2023","day":239.9,"ret":57.9},{"year":"2023","day":241,"ret":60.7},{"year":"2023","day":242.1,"ret":56},{"year":"2023","day":243.7,"ret":55.4},{"year":"2023","day":245.4,"ret":55.4},{"year":"2023","day":247.1,"ret":55.4},{"year":"2023","day":248.7,"ret":56},{"year":"2023","day":250.4,"ret":56},{"year":"2023","day":251.5,"ret":55},{"year":"2023","day":252.9,"ret":51.6},{"year":"2023","day":254,"ret":55.4},{"year":"2023","day":255.4,"ret":57.9},{"year":"2023","day":257,"ret":59.8},{"year":"2023","day":258.7,"ret":60.7},{"year":"2023","day":260.9,"ret":63.6},{"year":"2023","day":262.6,"ret":60.7},{"year":"2023","day":264.2,"ret":59.8},{"year":"2023","day":265.9,"ret":58.4},{"year":"2023","day":267.5,"ret":58.8},{"year":"2023","day":269.2,"ret":60.7},{"year":"2023","day":270.3,"ret":62.6},{"year":"2023","day":271.4,"ret":62.6},{"year":"2023","day":272.9,"ret":68.3},{"year":"2023","day":274.2,"ret":65.5},{"year":"2023","day":275.8,"ret":66.4},{"year":"2023","day":277.5,"ret":68.3},{"year":"2023","day":279.2,"ret":68.3},{"year":"2023","day":280.8,"ret":66.4},{"year":"2023","day":282.5,"ret":63.6},{"year":"2023","day":284.1,"ret":61.7},{"year":"2023","day":284.9,"ret":61.2},{"year":"2023","day":286.5,"ret":63.1},{"year":"2023","day":287.6,"ret":71.3},{"year":"2023","day":288.7,"ret":70.7},{"year":"2023","day":290.1,"ret":73.2},{"year":"2023","day":291.2,"ret":76.9},{"year":"2023","day":292.3,"ret":79.8},{"year":"2023","day":293.7,"ret":80.7},{"year":"2023","day":294.5,"ret":86.4},{"year":"2023","day":295.2,"ret":99.6},{"year":"2023","day":296.3,"ret":107.2},{"year":"2023","day":297.4,"ret":108.1},{"year":"2023","day":298.7,"ret":104.3},{"year":"2023","day":299.8,"ret":107.2},{"year":"2023","day":301.1,"ret":108.1},{"year":"2023","day":302.6,"ret":109.1},{"year":"2023","day":303.7,"ret":112.9},{"year":"2023","day":304.8,"ret":109.1},{"year":"2023","day":306.2,"ret":111},{"year":"2023","day":307.6,"ret":111},{"year":"2023","day":308.7,"ret":111.9},{"year":"2023","day":309.8,"ret":112.9},{"year":"2023","day":311.1,"ret":115.7},{"year":"2023","day":312.2,"ret":119.5},{"year":"2023","day":313.3,"ret":124.2},{"year":"2023","day":314.8,"ret":123.3},{"year":"2023","day":315.9,"ret":120.4},{"year":"2023","day":316.6,"ret":115.7},{"year":"2023","day":317.5,"ret":125.1},{"year":"2023","day":318.9,"ret":118.5},{"year":"2023","day":320,"ret":120.4},{"year":"2023","day":321.1,"ret":121.4},{"year":"2023","day":322,"ret":124.2},{"year":"2023","day":323.1,"ret":125.1},{"year":"2023","day":324.2,"ret":115.7},{"year":"2023","day":325.1,"ret":124.2},{"year":"2023","day":326.2,"ret":125.2},{"year":"2023","day":327.5,"ret":127.1},{"year":"2023","day":328.6,"ret":126.1},{"year":"2023","day":329.9,"ret":124.2},{"year":"2023","day":331,"ret":127.7},{"year":"2023","day":332.5,"ret":128},{"year":"2023","day":333.6,"ret":132.8},{"year":"2023","day":334.7,"ret":137.5},{"year":"2023","day":336,"ret":140.3},{"year":"2023","day":336.9,"ret":152.7},{"year":"2023","day":338,"ret":165},{"year":"2023","day":339.1,"ret":162.1},{"year":"2023","day":339.9,"ret":160.2},{"year":"2023","day":340.8,"ret":165.9},{"year":"2023","day":341.9,"ret":163.6},{"year":"2023","day":343,"ret":163.1},{"year":"2023","day":344.1,"ret":148.5},{"year":"2023","day":345.2,"ret":149.8},{"year":"2023","day":346.3,"ret":158.3},{"year":"2023","day":347.2,"ret":159.3},{"year":"2023","day":348.1,"ret":152.7},{"year":"2023","day":349.1,"ret":153.6},{"year":"2023","day":350,"ret":148.9},{"year":"2023","day":351,"ret":156.4},{"year":"2023","day":352.1,"ret":155.5},{"year":"2023","day":353,"ret":163.1},{"year":"2023","day":354.1,"ret":164.4},{"year":"2023","day":355.2,"ret":165},{"year":"2023","day":356.3,"ret":163.1},{"year":"2023","day":357.2,"ret":159.3},{"year":"2023","day":358.3,"ret":162.1},{"year":"2023","day":359,"ret":156},{"year":"2023","day":360.1,"ret":161.2},{"year":"2023","day":360.9,"ret":157.4},{"year":"2023","day":362,"ret":153.6},{"year":"2023","day":363.1,"ret":154},{"year":"2023","day":364,"ret":154.5},
{"year":"2024","day":0,"ret":0},{"year":"2024","day":1,"ret":0.9},{"year":"2024","day":2.6,"ret":2.3},{"year":"2024","day":4.2,"ret":2.8},{"year":"2024","day":5.9,"ret":4.7},{"year":"2024","day":7.3,"ret":6},{"year":"2024","day":8.4,"ret":4.7},{"year":"2024","day":9.6,"ret":6.6},{"year":"2024","day":10.3,"ret":0},{"year":"2024","day":11.4,"ret":-1.9},{"year":"2024","day":12.6,"ret":-2.8},{"year":"2024","day":14,"ret":-3.8},{"year":"2024","day":15.3,"ret":-3.4},{"year":"2024","day":17,"ret":-4.7},{"year":"2024","day":18.7,"ret":-5.7},{"year":"2024","day":20.9,"ret":-9.5},{"year":"2024","day":22.9,"ret":-9.1},{"year":"2024","day":24.8,"ret":-9.5},{"year":"2024","day":26.4,"ret":-4.7},{"year":"2024","day":28.1,"ret":-2.8},{"year":"2024","day":29.8,"ret":-2.8},{"year":"2024","day":32,"ret":-1.9},{"year":"2024","day":34.2,"ret":-2.8},{"year":"2024","day":35.9,"ret":-1.5},{"year":"2024","day":37.6,"ret":3.8},{"year":"2024","day":39.2,"ret":7.6},{"year":"2024","day":40.9,"ret":10.4},{"year":"2024","day":42.6,"ret":14.2},{"year":"2024","day":44.2,"ret":17.4},{"year":"2024","day":45.9,"ret":17.4},{"year":"2024","day":47.6,"ret":18},{"year":"2024","day":49.2,"ret":17.4},{"year":"2024","day":50.9,"ret":18},{"year":"2024","day":52.6,"ret":15.1},{"year":"2024","day":54.2,"ret":17},{"year":"2024","day":55.3,"ret":19.8},{"year":"2024","day":56.4,"ret":28.4},{"year":"2024","day":57.6,"ret":39.7},{"year":"2024","day":58.7,"ret":40.6},{"year":"2024","day":60.3,"ret":41.6},{"year":"2024","day":62,"ret":43.5},{"year":"2024","day":63.1,"ret":54.8},{"year":"2024","day":63.7,"ret":49.1},{"year":"2024","day":64.2,"ret":44.4},{"year":"2024","day":65.3,"ret":50.1},{"year":"2024","day":67,"ret":53.9},{"year":"2024","day":68.7,"ret":56.7},{"year":"2024","day":69.8,"ret":62.4},{"year":"2024","day":70.9,"ret":61.4},{"year":"2024","day":72,"ret":65.2},{"year":"2024","day":73.1,"ret":60.5},{"year":"2024","day":74.2,"ret":52.9},{"year":"2024","day":75.9,"ret":46.3},{"year":"2024","day":77,"ret":54.8},{"year":"2024","day":78.1,"ret":39.7},{"year":"2024","day":79.2,"ret":52.9},{"year":"2024","day":80.3,"ret":49.1},{"year":"2024","day":82,"ret":44.4},{"year":"2024","day":83.1,"ret":49.1},{"year":"2024","day":84.2,"ret":56.7},{"year":"2024","day":85.9,"ret":58.6},{"year":"2024","day":87.6,"ret":60.5},{"year":"2024","day":89.2,"ret":60.7},{"year":"2024","day":90.3,"ret":56.9},{"year":"2024","day":91.4,"ret":54.1},{"year":"2024","day":92.2,"ret":48.4},{"year":"2024","day":93.3,"ret":51.2},{"year":"2024","day":94.4,"ret":55},{"year":"2024","day":95.5,"ret":53.1},{"year":"2024","day":96.6,"ret":56},{"year":"2024","day":98,"ret":61.7},{"year":"2024","day":99.1,"ret":57.9},{"year":"2024","day":100.6,"ret":59.8},{"year":"2024","day":101.7,"ret":53.1},{"year":"2024","day":102.8,"ret":48.4},{"year":"2024","day":103.6,"ret":44.6},{"year":"2024","day":104.3,"ret":47.4},{"year":"2024","day":105.5,"ret":43.6},{"year":"2024","day":106.6,"ret":38.9},{"year":"2024","day":107.7,"ret":42.7},{"year":"2024","day":108.8,"ret":43.6},{"year":"2024","day":109.9,"ret":46.5},{"year":"2024","day":111.3,"ret":46.5},{"year":"2024","day":112.4,"ret":51.2},{"year":"2024","day":113.5,"ret":47.4},{"year":"2024","day":114.6,"ret":46.5},{"year":"2024","day":115.7,"ret":44.6},{"year":"2024","day":117.4,"ret":43.6},{"year":"2024","day":118.7,"ret":42.7},{"year":"2024","day":119.6,"ret":41.7},{"year":"2024","day":120.7,"ret":33.2},{"year":"2024","day":121.8,"ret":39.8},{"year":"2024","day":122.9,"ret":43.6},{"year":"2024","day":124,"ret":44.6},{"year":"2024","day":125.4,"ret":43.6},{"year":"2024","day":126.8,"ret":40.8},{"year":"2024","day":127.9,"ret":39.8},{"year":"2024","day":129,"ret":41.7},{"year":"2024","day":130.1,"ret":38},{"year":"2024","day":131.2,"ret":40.8},{"year":"2024","day":132.4,"ret":38.9},{"year":"2024","day":133.5,"ret":42.7},{"year":"2024","day":134.6,"ret":41.7},{"year":"2024","day":135.5,"ret":48.4},{"year":"2024","day":136.5,"ret":50.3},{"year":"2024","day":137.3,"ret":52.2},{"year":"2024","day":138.4,"ret":50.3},{"year":"2024","day":139.5,"ret":61.7},{"year":"2024","day":140.7,"ret":57.9},{"year":"2024","day":141.8,"ret":56},{"year":"2024","day":142.9,"ret":54.1},{"year":"2024","day":144.5,"ret":56},{"year":"2024","day":146.2,"ret":55},{"year":"2024","day":147.3,"ret":56.9},{"year":"2024","day":148.6,"ret":54.1},{"year":"2024","day":150.1,"ret":53.1},{"year":"2024","day":151.2,"ret":54.1},{"year":"2024","day":152.6,"ret":53.1},{"year":"2024","day":153.9,"ret":55},{"year":"2024","day":155,"ret":59.8},{"year":"2024","day":156.2,"ret":60.7},{"year":"2024","day":157.3,"ret":58.8},{"year":"2024","day":158.4,"ret":57.9},{"year":"2024","day":159.5,"ret":56.9},{"year":"2024","day":160.6,"ret":56},{"year":"2024","day":161.7,"ret":55},{"year":"2024","day":163,"ret":53.1},{"year":"2024","day":164.1,"ret":50.3},{"year":"2024","day":165.6,"ret":50.3},{"year":"2024","day":166.7,"ret":49.3},{"year":"2024","day":167.8,"ret":49},{"year":"2024","day":168.9,"ret":47.4},{"year":"2024","day":170,"ret":48.4},{"year":"2024","day":170.8,"ret":49}
]},
"mark":{"type":"line","strokeWidth":2.8,"clip":true},
"encoding":{
"x":{"field":"day","type":"quantitative","scale":{"domain":[-18.2,383.2],"nice":false,"zero":false},
"axis":{"title":null,"values":[0,20,40,60,80,100,120,140,160,180,200,220,240,260,280,300,320,340,360,380],
"labelExpr":"datum.value % 40 === 0 ? timeFormat(datetime(2020,0,1+datum.value),'%m-%d') : ''",
"gridWidth":{"condition":{"test":"datum.value % 40 === 0","value":2.2},"value":1.1},
"tickOpacity":{"condition":{"test":"datum.value % 40 === 0","value":1},"value":0},
"labelPadding":5.5}},
"y":{"field":"ret","type":"quantitative","scale":{"domain":[-94.4,320.3],"nice":false,"zero":false},
"axis":{"title":"Cumulated return","values":[-75,-50,-25,0,25,50,75,100,125,150,175,200,225,250,275,300],
"labelExpr":"datum.value % 50 === 0 ? datum.value + '%' : ''",
"gridWidth":{"condition":{"test":"datum.value % 50 === 0","value":2.2},"value":1.1},
"tickOpacity":{"condition":{"test":"datum.value % 50 === 0","value":1},"value":0},
"labelPadding":7.5,"titlePadding":9}},
"color":{"field":"year","type":"nominal",
"scale":{"domain":["2018","2020","2022","2024","2019","2021","2023"],"range":["#F8766D","#53B400","#00B6EB","#FB61D7","#C49A00","#00C094","#A58AFF"]},
"legend":{"orient":"none","legendX":358.4,"legendY":-146.5,"direction":"horizontal","columns":4,"title":null,"symbolType":"stroke","symbolSize":1350,"symbolStrokeWidth":2.8,"labelFontSize":23,"labelColor":"#000000","labelOffset":17,"columnPadding":12.5,"rowPadding":29,"padding":0}}
}
}
